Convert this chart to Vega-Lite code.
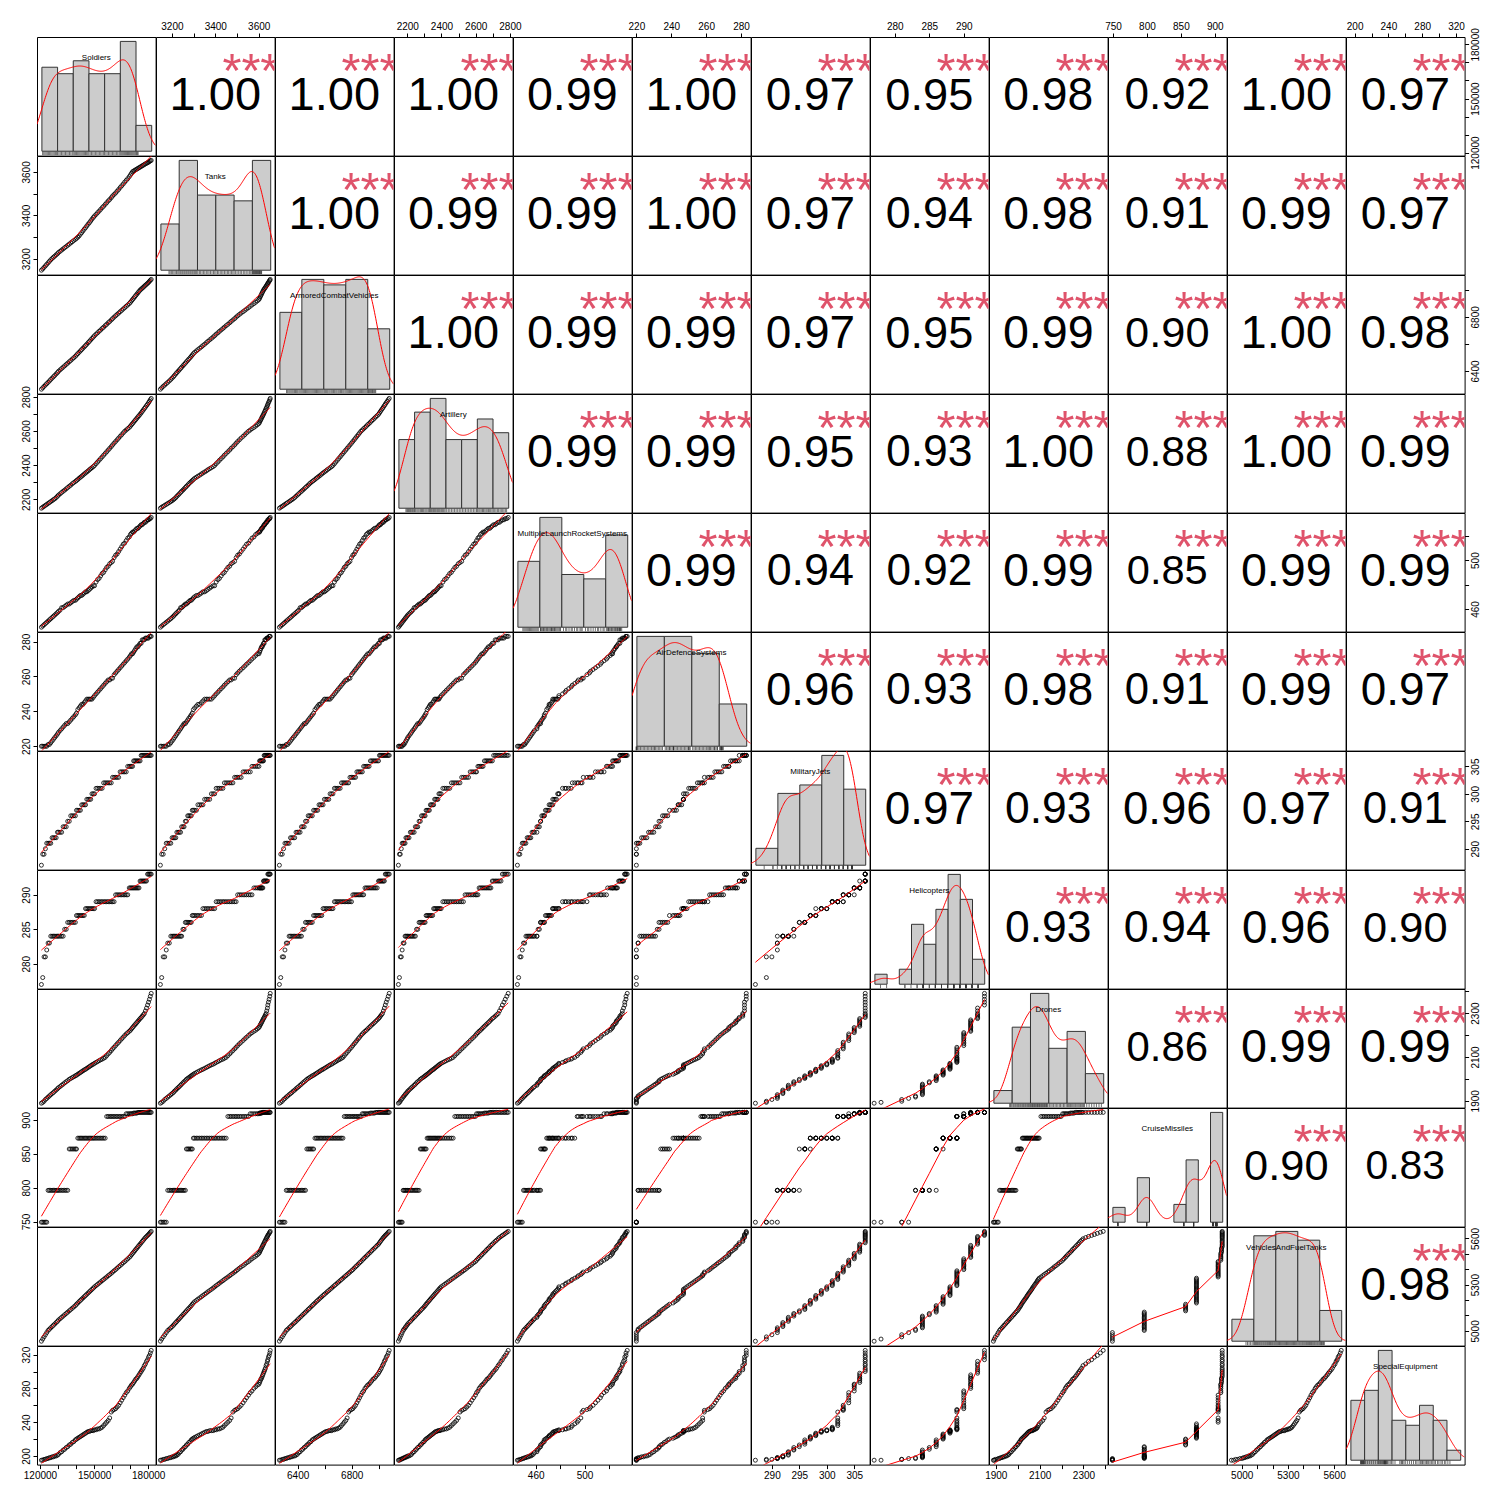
{
"$schema":"https://vega.github.io/schema/vega-lite/v6.json",
"padding":{"left":20,"top":20,"right":5,"bottom":5},
"datasets":{"d":[
{"Soldiers":120780,"Tanks":3147,"ArmoredCombatVehicles":6265,"Artillery":2148,"MultipleLaunchRocketSystems":445,"AirDefenceSystems":220,"MilitaryJets":287,"Helicopters":277,"Drones":1889,"CruiseMissiles":749,"VehiclesAndFuelTanks":4933,"SpecialEquipment":195},
{"Soldiers":121520,"Tanks":3153,"ArmoredCombatVehicles":6275,"Artillery":2154,"MultipleLaunchRocketSystems":446,"AirDefenceSystems":220,"MilitaryJets":289,"Helicopters":278,"Drones":1893,"CruiseMissiles":749,"VehiclesAndFuelTanks":4947,"SpecialEquipment":195},
{"Soldiers":122260,"Tanks":3160,"ArmoredCombatVehicles":6286,"Artillery":2159,"MultipleLaunchRocketSystems":447,"AirDefenceSystems":220,"MilitaryJets":289,"Helicopters":281,"Drones":1898,"CruiseMissiles":749,"VehiclesAndFuelTanks":4961,"SpecialEquipment":196},
{"Soldiers":123000,"Tanks":3167,"ArmoredCombatVehicles":6296,"Artillery":2165,"MultipleLaunchRocketSystems":448,"AirDefenceSystems":220,"MilitaryJets":290,"Helicopters":281,"Drones":1906,"CruiseMissiles":749,"VehiclesAndFuelTanks":4975,"SpecialEquipment":196},
{"Soldiers":123750,"Tanks":3174,"ArmoredCombatVehicles":6306,"Artillery":2170,"MultipleLaunchRocketSystems":449,"AirDefenceSystems":220,"MilitaryJets":291,"Helicopters":282,"Drones":1911,"CruiseMissiles":749,"VehiclesAndFuelTanks":4989,"SpecialEquipment":197},
{"Soldiers":124490,"Tanks":3181,"ArmoredCombatVehicles":6316,"Artillery":2176,"MultipleLaunchRocketSystems":450,"AirDefenceSystems":221,"MilitaryJets":291,"Helicopters":283,"Drones":1917,"CruiseMissiles":796,"VehiclesAndFuelTanks":5003,"SpecialEquipment":197},
{"Soldiers":125230,"Tanks":3188,"ArmoredCombatVehicles":6326,"Artillery":2181,"MultipleLaunchRocketSystems":451,"AirDefenceSystems":221,"MilitaryJets":291,"Helicopters":283,"Drones":1922,"CruiseMissiles":796,"VehiclesAndFuelTanks":5011,"SpecialEquipment":198},
{"Soldiers":125970,"Tanks":3195,"ArmoredCombatVehicles":6337,"Artillery":2187,"MultipleLaunchRocketSystems":452,"AirDefenceSystems":222,"MilitaryJets":291,"Helicopters":284,"Drones":1928,"CruiseMissiles":796,"VehiclesAndFuelTanks":5020,"SpecialEquipment":198},
{"Soldiers":126720,"Tanks":3201,"ArmoredCombatVehicles":6347,"Artillery":2192,"MultipleLaunchRocketSystems":453,"AirDefenceSystems":223,"MilitaryJets":292,"Helicopters":284,"Drones":1933,"CruiseMissiles":796,"VehiclesAndFuelTanks":5028,"SpecialEquipment":199},
{"Soldiers":127460,"Tanks":3207,"ArmoredCombatVehicles":6357,"Artillery":2198,"MultipleLaunchRocketSystems":454,"AirDefenceSystems":224,"MilitaryJets":292,"Helicopters":284,"Drones":1938,"CruiseMissiles":796,"VehiclesAndFuelTanks":5037,"SpecialEquipment":199},
{"Soldiers":128200,"Tanks":3212,"ArmoredCombatVehicles":6367,"Artillery":2203,"MultipleLaunchRocketSystems":455,"AirDefenceSystems":225,"MilitaryJets":292,"Helicopters":284,"Drones":1944,"CruiseMissiles":796,"VehiclesAndFuelTanks":5045,"SpecialEquipment":200},
{"Soldiers":128950,"Tanks":3218,"ArmoredCombatVehicles":6378,"Artillery":2210,"MultipleLaunchRocketSystems":456,"AirDefenceSystems":226,"MilitaryJets":292,"Helicopters":284,"Drones":1949,"CruiseMissiles":796,"VehiclesAndFuelTanks":5054,"SpecialEquipment":200},
{"Soldiers":129690,"Tanks":3223,"ArmoredCombatVehicles":6388,"Artillery":2218,"MultipleLaunchRocketSystems":457,"AirDefenceSystems":227,"MilitaryJets":293,"Helicopters":284,"Drones":1955,"CruiseMissiles":796,"VehiclesAndFuelTanks":5062,"SpecialEquipment":201},
{"Soldiers":130300,"Tanks":3229,"ArmoredCombatVehicles":6398,"Artillery":2225,"MultipleLaunchRocketSystems":458,"AirDefenceSystems":228,"MilitaryJets":293,"Helicopters":284,"Drones":1960,"CruiseMissiles":796,"VehiclesAndFuelTanks":5071,"SpecialEquipment":202},
{"Soldiers":131150,"Tanks":3234,"ArmoredCombatVehicles":6408,"Artillery":2232,"MultipleLaunchRocketSystems":459,"AirDefenceSystems":229,"MilitaryJets":293,"Helicopters":284,"Drones":1965,"CruiseMissiles":796,"VehiclesAndFuelTanks":5079,"SpecialEquipment":204},
{"Soldiers":131990,"Tanks":3240,"ArmoredCombatVehicles":6418,"Artillery":2240,"MultipleLaunchRocketSystems":461,"AirDefenceSystems":230,"MilitaryJets":293,"Helicopters":284,"Drones":1971,"CruiseMissiles":796,"VehiclesAndFuelTanks":5088,"SpecialEquipment":205},
{"Soldiers":132840,"Tanks":3245,"ArmoredCombatVehicles":6428,"Artillery":2247,"MultipleLaunchRocketSystems":461,"AirDefenceSystems":231,"MilitaryJets":294,"Helicopters":284,"Drones":1976,"CruiseMissiles":796,"VehiclesAndFuelTanks":5096,"SpecialEquipment":207},
{"Soldiers":133680,"Tanks":3251,"ArmoredCombatVehicles":6438,"Artillery":2254,"MultipleLaunchRocketSystems":462,"AirDefenceSystems":232,"MilitaryJets":294,"Helicopters":285,"Drones":1982,"CruiseMissiles":796,"VehiclesAndFuelTanks":5105,"SpecialEquipment":208},
{"Soldiers":134530,"Tanks":3256,"ArmoredCombatVehicles":6448,"Artillery":2261,"MultipleLaunchRocketSystems":463,"AirDefenceSystems":233,"MilitaryJets":294,"Helicopters":285,"Drones":1987,"CruiseMissiles":796,"VehiclesAndFuelTanks":5113,"SpecialEquipment":210},
{"Soldiers":135370,"Tanks":3262,"ArmoredCombatVehicles":6458,"Artillery":2269,"MultipleLaunchRocketSystems":464,"AirDefenceSystems":233,"MilitaryJets":295,"Helicopters":286,"Drones":1992,"CruiseMissiles":796,"VehiclesAndFuelTanks":5122,"SpecialEquipment":211},
{"Soldiers":136220,"Tanks":3267,"ArmoredCombatVehicles":6468,"Artillery":2276,"MultipleLaunchRocketSystems":464,"AirDefenceSystems":234,"MilitaryJets":295,"Helicopters":286,"Drones":1998,"CruiseMissiles":857,"VehiclesAndFuelTanks":5130,"SpecialEquipment":213},
{"Soldiers":137060,"Tanks":3273,"ArmoredCombatVehicles":6478,"Artillery":2283,"MultipleLaunchRocketSystems":465,"AirDefenceSystems":235,"MilitaryJets":296,"Helicopters":286,"Drones":2002,"CruiseMissiles":857,"VehiclesAndFuelTanks":5139,"SpecialEquipment":214},
{"Soldiers":137910,"Tanks":3278,"ArmoredCombatVehicles":6488,"Artillery":2291,"MultipleLaunchRocketSystems":466,"AirDefenceSystems":236,"MilitaryJets":296,"Helicopters":286,"Drones":2006,"CruiseMissiles":857,"VehiclesAndFuelTanks":5147,"SpecialEquipment":216},
{"Soldiers":138750,"Tanks":3284,"ArmoredCombatVehicles":6498,"Artillery":2298,"MultipleLaunchRocketSystems":467,"AirDefenceSystems":237,"MilitaryJets":296,"Helicopters":286,"Drones":2010,"CruiseMissiles":857,"VehiclesAndFuelTanks":5156,"SpecialEquipment":217},
{"Soldiers":139600,"Tanks":3289,"ArmoredCombatVehicles":6508,"Artillery":2304,"MultipleLaunchRocketSystems":467,"AirDefenceSystems":238,"MilitaryJets":296,"Helicopters":286,"Drones":2014,"CruiseMissiles":857,"VehiclesAndFuelTanks":5164,"SpecialEquipment":219},
{"Soldiers":140250,"Tanks":3294,"ArmoredCombatVehicles":6518,"Artillery":2310,"MultipleLaunchRocketSystems":468,"AirDefenceSystems":239,"MilitaryJets":297,"Helicopters":287,"Drones":2017,"CruiseMissiles":857,"VehiclesAndFuelTanks":5173,"SpecialEquipment":220},
{"Soldiers":140970,"Tanks":3299,"ArmoredCombatVehicles":6528,"Artillery":2316,"MultipleLaunchRocketSystems":469,"AirDefenceSystems":241,"MilitaryJets":297,"Helicopters":287,"Drones":2021,"CruiseMissiles":873,"VehiclesAndFuelTanks":5181,"SpecialEquipment":221},
{"Soldiers":141680,"Tanks":3305,"ArmoredCombatVehicles":6538,"Artillery":2323,"MultipleLaunchRocketSystems":470,"AirDefenceSystems":242,"MilitaryJets":297,"Helicopters":287,"Drones":2025,"CruiseMissiles":873,"VehiclesAndFuelTanks":5190,"SpecialEquipment":222},
{"Soldiers":142400,"Tanks":3313,"ArmoredCombatVehicles":6548,"Artillery":2329,"MultipleLaunchRocketSystems":471,"AirDefenceSystems":243,"MilitaryJets":297,"Helicopters":287,"Drones":2029,"CruiseMissiles":873,"VehiclesAndFuelTanks":5198,"SpecialEquipment":223},
{"Soldiers":143110,"Tanks":3320,"ArmoredCombatVehicles":6558,"Artillery":2335,"MultipleLaunchRocketSystems":471,"AirDefenceSystems":244,"MilitaryJets":298,"Helicopters":287,"Drones":2033,"CruiseMissiles":873,"VehiclesAndFuelTanks":5206,"SpecialEquipment":224},
{"Soldiers":143830,"Tanks":3328,"ArmoredCombatVehicles":6568,"Artillery":2341,"MultipleLaunchRocketSystems":472,"AirDefenceSystems":244,"MilitaryJets":298,"Helicopters":287,"Drones":2037,"CruiseMissiles":873,"VehiclesAndFuelTanks":5214,"SpecialEquipment":225},
{"Soldiers":144540,"Tanks":3336,"ArmoredCombatVehicles":6578,"Artillery":2348,"MultipleLaunchRocketSystems":473,"AirDefenceSystems":245,"MilitaryJets":298,"Helicopters":287,"Drones":2041,"CruiseMissiles":873,"VehiclesAndFuelTanks":5222,"SpecialEquipment":226},
{"Soldiers":145260,"Tanks":3343,"ArmoredCombatVehicles":6588,"Artillery":2354,"MultipleLaunchRocketSystems":474,"AirDefenceSystems":246,"MilitaryJets":298,"Helicopters":288,"Drones":2044,"CruiseMissiles":873,"VehiclesAndFuelTanks":5230,"SpecialEquipment":227},
{"Soldiers":145970,"Tanks":3351,"ArmoredCombatVehicles":6598,"Artillery":2360,"MultipleLaunchRocketSystems":474,"AirDefenceSystems":247,"MilitaryJets":299,"Helicopters":288,"Drones":2048,"CruiseMissiles":873,"VehiclesAndFuelTanks":5238,"SpecialEquipment":228},
{"Soldiers":146690,"Tanks":3359,"ArmoredCombatVehicles":6609,"Artillery":2366,"MultipleLaunchRocketSystems":475,"AirDefenceSystems":247,"MilitaryJets":299,"Helicopters":288,"Drones":2052,"CruiseMissiles":873,"VehiclesAndFuelTanks":5246,"SpecialEquipment":229},
{"Soldiers":147400,"Tanks":3366,"ArmoredCombatVehicles":6619,"Artillery":2373,"MultipleLaunchRocketSystems":476,"AirDefenceSystems":247,"MilitaryJets":299,"Helicopters":288,"Drones":2056,"CruiseMissiles":873,"VehiclesAndFuelTanks":5254,"SpecialEquipment":229},
{"Soldiers":148120,"Tanks":3374,"ArmoredCombatVehicles":6630,"Artillery":2379,"MultipleLaunchRocketSystems":477,"AirDefenceSystems":247,"MilitaryJets":299,"Helicopters":288,"Drones":2060,"CruiseMissiles":873,"VehiclesAndFuelTanks":5262,"SpecialEquipment":230},
{"Soldiers":148830,"Tanks":3382,"ArmoredCombatVehicles":6640,"Artillery":2385,"MultipleLaunchRocketSystems":478,"AirDefenceSystems":247,"MilitaryJets":300,"Helicopters":288,"Drones":2064,"CruiseMissiles":873,"VehiclesAndFuelTanks":5270,"SpecialEquipment":230},
{"Soldiers":149550,"Tanks":3390,"ArmoredCombatVehicles":6651,"Artillery":2391,"MultipleLaunchRocketSystems":479,"AirDefenceSystems":248,"MilitaryJets":300,"Helicopters":288,"Drones":2067,"CruiseMissiles":873,"VehiclesAndFuelTanks":5278,"SpecialEquipment":230},
{"Soldiers":150250,"Tanks":3397,"ArmoredCombatVehicles":6661,"Artillery":2398,"MultipleLaunchRocketSystems":479,"AirDefenceSystems":249,"MilitaryJets":300,"Helicopters":288,"Drones":2071,"CruiseMissiles":873,"VehiclesAndFuelTanks":5286,"SpecialEquipment":231},
{"Soldiers":151090,"Tanks":3404,"ArmoredCombatVehicles":6672,"Artillery":2408,"MultipleLaunchRocketSystems":482,"AirDefenceSystems":250,"MilitaryJets":301,"Helicopters":289,"Drones":2075,"CruiseMissiles":873,"VehiclesAndFuelTanks":5294,"SpecialEquipment":231},
{"Soldiers":151930,"Tanks":3412,"ArmoredCombatVehicles":6682,"Artillery":2418,"MultipleLaunchRocketSystems":484,"AirDefenceSystems":251,"MilitaryJets":301,"Helicopters":289,"Drones":2079,"CruiseMissiles":873,"VehiclesAndFuelTanks":5302,"SpecialEquipment":232},
{"Soldiers":152770,"Tanks":3419,"ArmoredCombatVehicles":6693,"Artillery":2428,"MultipleLaunchRocketSystems":485,"AirDefenceSystems":252,"MilitaryJets":301,"Helicopters":289,"Drones":2083,"CruiseMissiles":873,"VehiclesAndFuelTanks":5310,"SpecialEquipment":232},
{"Soldiers":153610,"Tanks":3427,"ArmoredCombatVehicles":6703,"Artillery":2438,"MultipleLaunchRocketSystems":487,"AirDefenceSystems":253,"MilitaryJets":301,"Helicopters":289,"Drones":2087,"CruiseMissiles":873,"VehiclesAndFuelTanks":5318,"SpecialEquipment":233},
{"Soldiers":154450,"Tanks":3435,"ArmoredCombatVehicles":6714,"Artillery":2448,"MultipleLaunchRocketSystems":489,"AirDefenceSystems":254,"MilitaryJets":301,"Helicopters":289,"Drones":2090,"CruiseMissiles":873,"VehiclesAndFuelTanks":5326,"SpecialEquipment":234},
{"Soldiers":155300,"Tanks":3442,"ArmoredCombatVehicles":6724,"Artillery":2458,"MultipleLaunchRocketSystems":490,"AirDefenceSystems":255,"MilitaryJets":302,"Helicopters":289,"Drones":2094,"CruiseMissiles":873,"VehiclesAndFuelTanks":5334,"SpecialEquipment":236},
{"Soldiers":156140,"Tanks":3450,"ArmoredCombatVehicles":6735,"Artillery":2468,"MultipleLaunchRocketSystems":492,"AirDefenceSystems":256,"MilitaryJets":302,"Helicopters":289,"Drones":2098,"CruiseMissiles":873,"VehiclesAndFuelTanks":5342,"SpecialEquipment":238},
{"Soldiers":156980,"Tanks":3458,"ArmoredCombatVehicles":6745,"Artillery":2478,"MultipleLaunchRocketSystems":494,"AirDefenceSystems":257,"MilitaryJets":302,"Helicopters":289,"Drones":2106,"CruiseMissiles":905,"VehiclesAndFuelTanks":5350,"SpecialEquipment":240},
{"Soldiers":157820,"Tanks":3466,"ArmoredCombatVehicles":6756,"Artillery":2488,"MultipleLaunchRocketSystems":495,"AirDefenceSystems":258,"MilitaryJets":302,"Helicopters":289,"Drones":2114,"CruiseMissiles":905,"VehiclesAndFuelTanks":5358,"SpecialEquipment":242},
{"Soldiers":158660,"Tanks":3473,"ArmoredCombatVehicles":6766,"Artillery":2498,"MultipleLaunchRocketSystems":497,"AirDefenceSystems":258,"MilitaryJets":302,"Helicopters":289,"Drones":2121,"CruiseMissiles":905,"VehiclesAndFuelTanks":5366,"SpecialEquipment":245},
{"Soldiers":159500,"Tanks":3481,"ArmoredCombatVehicles":6777,"Artillery":2508,"MultipleLaunchRocketSystems":498,"AirDefenceSystems":259,"MilitaryJets":302,"Helicopters":289,"Drones":2129,"CruiseMissiles":905,"VehiclesAndFuelTanks":5374,"SpecialEquipment":252},
{"Soldiers":160250,"Tanks":3489,"ArmoredCombatVehicles":6787,"Artillery":2518,"MultipleLaunchRocketSystems":499,"AirDefenceSystems":259,"MilitaryJets":303,"Helicopters":289,"Drones":2137,"CruiseMissiles":905,"VehiclesAndFuelTanks":5382,"SpecialEquipment":254},
{"Soldiers":161090,"Tanks":3496,"ArmoredCombatVehicles":6798,"Artillery":2528,"MultipleLaunchRocketSystems":502,"AirDefenceSystems":261,"MilitaryJets":303,"Helicopters":289,"Drones":2144,"CruiseMissiles":905,"VehiclesAndFuelTanks":5390,"SpecialEquipment":255},
{"Soldiers":161930,"Tanks":3503,"ArmoredCombatVehicles":6808,"Artillery":2538,"MultipleLaunchRocketSystems":504,"AirDefenceSystems":262,"MilitaryJets":303,"Helicopters":290,"Drones":2152,"CruiseMissiles":905,"VehiclesAndFuelTanks":5398,"SpecialEquipment":256},
{"Soldiers":162770,"Tanks":3511,"ArmoredCombatVehicles":6818,"Artillery":2548,"MultipleLaunchRocketSystems":505,"AirDefenceSystems":263,"MilitaryJets":303,"Helicopters":290,"Drones":2160,"CruiseMissiles":905,"VehiclesAndFuelTanks":5407,"SpecialEquipment":258},
{"Soldiers":163610,"Tanks":3519,"ArmoredCombatVehicles":6828,"Artillery":2558,"MultipleLaunchRocketSystems":507,"AirDefenceSystems":264,"MilitaryJets":303,"Helicopters":290,"Drones":2167,"CruiseMissiles":905,"VehiclesAndFuelTanks":5416,"SpecialEquipment":260},
{"Soldiers":164450,"Tanks":3528,"ArmoredCombatVehicles":6838,"Artillery":2568,"MultipleLaunchRocketSystems":509,"AirDefenceSystems":265,"MilitaryJets":304,"Helicopters":290,"Drones":2175,"CruiseMissiles":905,"VehiclesAndFuelTanks":5424,"SpecialEquipment":263},
{"Soldiers":165300,"Tanks":3536,"ArmoredCombatVehicles":6848,"Artillery":2578,"MultipleLaunchRocketSystems":511,"AirDefenceSystems":266,"MilitaryJets":304,"Helicopters":290,"Drones":2183,"CruiseMissiles":905,"VehiclesAndFuelTanks":5433,"SpecialEquipment":266},
{"Soldiers":166140,"Tanks":3544,"ArmoredCombatVehicles":6858,"Artillery":2588,"MultipleLaunchRocketSystems":513,"AirDefenceSystems":267,"MilitaryJets":304,"Helicopters":290,"Drones":2190,"CruiseMissiles":905,"VehiclesAndFuelTanks":5442,"SpecialEquipment":269},
{"Soldiers":166980,"Tanks":3553,"ArmoredCombatVehicles":6868,"Artillery":2598,"MultipleLaunchRocketSystems":514,"AirDefenceSystems":268,"MilitaryJets":304,"Helicopters":290,"Drones":2198,"CruiseMissiles":905,"VehiclesAndFuelTanks":5450,"SpecialEquipment":272},
{"Soldiers":167820,"Tanks":3561,"ArmoredCombatVehicles":6878,"Artillery":2605,"MultipleLaunchRocketSystems":516,"AirDefenceSystems":269,"MilitaryJets":304,"Helicopters":290,"Drones":2205,"CruiseMissiles":909,"VehiclesAndFuelTanks":5459,"SpecialEquipment":275},
{"Soldiers":168660,"Tanks":3569,"ArmoredCombatVehicles":6888,"Artillery":2613,"MultipleLaunchRocketSystems":518,"AirDefenceSystems":270,"MilitaryJets":305,"Helicopters":290,"Drones":2211,"CruiseMissiles":909,"VehiclesAndFuelTanks":5468,"SpecialEquipment":277},
{"Soldiers":169500,"Tanks":3578,"ArmoredCombatVehicles":6898,"Artillery":2620,"MultipleLaunchRocketSystems":519,"AirDefenceSystems":271,"MilitaryJets":305,"Helicopters":291,"Drones":2217,"CruiseMissiles":909,"VehiclesAndFuelTanks":5477,"SpecialEquipment":280},
{"Soldiers":170150,"Tanks":3586,"ArmoredCombatVehicles":6908,"Artillery":2628,"MultipleLaunchRocketSystems":521,"AirDefenceSystems":272,"MilitaryJets":305,"Helicopters":291,"Drones":2222,"CruiseMissiles":909,"VehiclesAndFuelTanks":5485,"SpecialEquipment":282},
{"Soldiers":170740,"Tanks":3594,"ArmoredCombatVehicles":6918,"Artillery":2636,"MultipleLaunchRocketSystems":522,"AirDefenceSystems":273,"MilitaryJets":305,"Helicopters":291,"Drones":2228,"CruiseMissiles":909,"VehiclesAndFuelTanks":5494,"SpecialEquipment":284},
{"Soldiers":171340,"Tanks":3601,"ArmoredCombatVehicles":6928,"Artillery":2643,"MultipleLaunchRocketSystems":523,"AirDefenceSystems":273,"MilitaryJets":305,"Helicopters":291,"Drones":2234,"CruiseMissiles":909,"VehiclesAndFuelTanks":5503,"SpecialEquipment":285},
{"Soldiers":171930,"Tanks":3604,"ArmoredCombatVehicles":6938,"Artillery":2651,"MultipleLaunchRocketSystems":523,"AirDefenceSystems":274,"MilitaryJets":306,"Helicopters":291,"Drones":2240,"CruiseMissiles":910,"VehiclesAndFuelTanks":5511,"SpecialEquipment":287},
{"Soldiers":172530,"Tanks":3607,"ArmoredCombatVehicles":6948,"Artillery":2659,"MultipleLaunchRocketSystems":524,"AirDefenceSystems":275,"MilitaryJets":306,"Helicopters":291,"Drones":2246,"CruiseMissiles":910,"VehiclesAndFuelTanks":5520,"SpecialEquipment":289},
{"Soldiers":173120,"Tanks":3610,"ArmoredCombatVehicles":6958,"Artillery":2666,"MultipleLaunchRocketSystems":525,"AirDefenceSystems":276,"MilitaryJets":306,"Helicopters":291,"Drones":2251,"CruiseMissiles":910,"VehiclesAndFuelTanks":5529,"SpecialEquipment":291},
{"Soldiers":173710,"Tanks":3613,"ArmoredCombatVehicles":6968,"Artillery":2674,"MultipleLaunchRocketSystems":526,"AirDefenceSystems":277,"MilitaryJets":306,"Helicopters":291,"Drones":2257,"CruiseMissiles":910,"VehiclesAndFuelTanks":5537,"SpecialEquipment":292},
{"Soldiers":174310,"Tanks":3616,"ArmoredCombatVehicles":6978,"Artillery":2682,"MultipleLaunchRocketSystems":526,"AirDefenceSystems":277,"MilitaryJets":306,"Helicopters":291,"Drones":2263,"CruiseMissiles":911,"VehiclesAndFuelTanks":5546,"SpecialEquipment":294},
{"Soldiers":174900,"Tanks":3619,"ArmoredCombatVehicles":6988,"Artillery":2689,"MultipleLaunchRocketSystems":527,"AirDefenceSystems":278,"MilitaryJets":306,"Helicopters":291,"Drones":2269,"CruiseMissiles":911,"VehiclesAndFuelTanks":5555,"SpecialEquipment":296},
{"Soldiers":175500,"Tanks":3622,"ArmoredCombatVehicles":6998,"Artillery":2697,"MultipleLaunchRocketSystems":528,"AirDefenceSystems":279,"MilitaryJets":306,"Helicopters":292,"Drones":2275,"CruiseMissiles":911,"VehiclesAndFuelTanks":5563,"SpecialEquipment":298},
{"Soldiers":176090,"Tanks":3625,"ArmoredCombatVehicles":7005,"Artillery":2705,"MultipleLaunchRocketSystems":529,"AirDefenceSystems":279,"MilitaryJets":307,"Helicopters":292,"Drones":2280,"CruiseMissiles":911,"VehiclesAndFuelTanks":5572,"SpecialEquipment":300},
{"Soldiers":176680,"Tanks":3628,"ArmoredCombatVehicles":7012,"Artillery":2714,"MultipleLaunchRocketSystems":529,"AirDefenceSystems":281,"MilitaryJets":307,"Helicopters":292,"Drones":2286,"CruiseMissiles":911,"VehiclesAndFuelTanks":5581,"SpecialEquipment":302},
{"Soldiers":177280,"Tanks":3631,"ArmoredCombatVehicles":7019,"Artillery":2722,"MultipleLaunchRocketSystems":530,"AirDefenceSystems":281,"MilitaryJets":307,"Helicopters":292,"Drones":2292,"CruiseMissiles":911,"VehiclesAndFuelTanks":5589,"SpecialEquipment":304},
{"Soldiers":177870,"Tanks":3634,"ArmoredCombatVehicles":7027,"Artillery":2731,"MultipleLaunchRocketSystems":531,"AirDefenceSystems":281,"MilitaryJets":307,"Helicopters":292,"Drones":2298,"CruiseMissiles":911,"VehiclesAndFuelTanks":5598,"SpecialEquipment":307},
{"Soldiers":178460,"Tanks":3637,"ArmoredCombatVehicles":7034,"Artillery":2739,"MultipleLaunchRocketSystems":531,"AirDefenceSystems":282,"MilitaryJets":307,"Helicopters":292,"Drones":2310,"CruiseMissiles":911,"VehiclesAndFuelTanks":5606,"SpecialEquipment":309},
{"Soldiers":179060,"Tanks":3640,"ArmoredCombatVehicles":7041,"Artillery":2748,"MultipleLaunchRocketSystems":532,"AirDefenceSystems":282,"MilitaryJets":307,"Helicopters":292,"Drones":2323,"CruiseMissiles":911,"VehiclesAndFuelTanks":5613,"SpecialEquipment":312},
{"Soldiers":179650,"Tanks":3642,"ArmoredCombatVehicles":7048,"Artillery":2756,"MultipleLaunchRocketSystems":533,"AirDefenceSystems":282,"MilitaryJets":307,"Helicopters":293,"Drones":2337,"CruiseMissiles":911,"VehiclesAndFuelTanks":5620,"SpecialEquipment":314},
{"Soldiers":180200,"Tanks":3645,"ArmoredCombatVehicles":7055,"Artillery":2765,"MultipleLaunchRocketSystems":533,"AirDefenceSystems":282,"MilitaryJets":307,"Helicopters":293,"Drones":2350,"CruiseMissiles":911,"VehiclesAndFuelTanks":5626,"SpecialEquipment":317},
{"Soldiers":180690,"Tanks":3648,"ArmoredCombatVehicles":7063,"Artillery":2773,"MultipleLaunchRocketSystems":534,"AirDefenceSystems":283,"MilitaryJets":307,"Helicopters":293,"Drones":2363,"CruiseMissiles":911,"VehiclesAndFuelTanks":5633,"SpecialEquipment":319},
{"Soldiers":181180,"Tanks":3651,"ArmoredCombatVehicles":7070,"Artillery":2782,"MultipleLaunchRocketSystems":534,"AirDefenceSystems":283,"MilitaryJets":307,"Helicopters":293,"Drones":2377,"CruiseMissiles":911,"VehiclesAndFuelTanks":5640,"SpecialEquipment":322},
{"Soldiers":181670,"Tanks":3653,"ArmoredCombatVehicles":7077,"Artillery":2790,"MultipleLaunchRocketSystems":535,"AirDefenceSystems":283,"MilitaryJets":307,"Helicopters":293,"Drones":2390,"CruiseMissiles":911,"VehiclesAndFuelTanks":5646,"SpecialEquipment":325}
]},
"data":{"name":"d"},
"columns":12,
"spacing":0,
"bounds":"flush",
"config":{
"view":{"continuousWidth":118.6,"continuousHeight":118.6,"stroke":"black","strokeWidth":1},
"concat":{"spacing":0},
"point":{"shape":"circle","filled":false,"size":16,"strokeWidth":0.8,"color":"black","opacity":1},
"line":{"color":"red","strokeWidth":1},
"bar":{"fill":"#cccccc","stroke":"#333333","strokeWidth":1,"binSpacing":0},
"rule":{"color":"#333333","strokeWidth":0.7},
"text":{"font":"Liberation Sans","baseline":"middle","color":"black"},
"axis":{"domain":false,"grid":false,"tickColor":"black","tickSize":4,"tickWidth":1,"labelFont":"Liberation Sans","labelFontSize":10,"labelColor":"black","labelPadding":2,"labelFlush":false,"labelOverlap":false},
"axisLeft":{"labelAngle":-90,"labelAlign":"center","labelBaseline":"bottom"},
"axisRight":{"labelAngle":-90,"labelAlign":"center","labelBaseline":"top"}
},
"concat":[
{"layer":[{"mark":"bar","encoding":{"x":{"field":"Soldiers","bin":{"extent":[120000.001,190000.001],"step":10000,"nice":false},"type":"quantitative","scale":{"domain":[117200,192800]},"axis":null},"y":{"aggregate":"count","type":"quantitative","scale":{"domain":[-0.68,17.68]},"axis":null}}},{"transform":[{"density":"Soldiers","bandwidth":6520,"extent":[117200,192800]}],"mark":{"type":"line","clip":true},"encoding":{"x":{"field":"value","type":"quantitative","scale":{"domain":[117200,192800]},"axis":null},"y":{"field":"density","type":"quantitative","scale":{"domain":[-8.1e-7,2.105e-5]},"axis":null}}},{"mark":"rule","encoding":{"x":{"field":"Soldiers","type":"quantitative","scale":{"domain":[117200,192800]},"axis":null},"y":{"datum":0.004,"scale":{"domain":[0,1]},"axis":null},"y2":{"datum":0.034}}},{"data":{"values":[{"name":"Soldiers"}]},"mark":{"type":"text","fontSize":8,"color":"black"},"encoding":{"text":{"field":"name"},"y":{"datum":0.827,"scale":{"domain":[0,1]},"axis":null}}}],"resolve":{"scale":{"y":"independent"}}},
{"data":{"values":[{"r":1.00,"p":"***"}]},"layer":[{"mark":"text","encoding":{"text":{"field":"r","format":".2f"},"size":{"field":"r","type":"quantitative","scale":{"domain":[-0.3,1],"range":[0,47]},"legend":null}}},{"mark":{"type":"text","color":"#DF536B","fontSize":48.8,"clip":true},"encoding":{"text":{"field":"p"},"x":{"datum":3563.9,"scale":{"domain":[3126.8,3673.2]},"axis":{"orient":"top","title":null,"format":"d","values":[3200,3300,3400,3500,3600],"labelExpr":"datum.value%200==0?datum.label:''"}},"y":{"datum":0.705,"scale":{"domain":[0,1]},"axis":null}}}]},
{"data":{"values":[{"r":1.00,"p":"***"}]},"layer":[{"mark":"text","encoding":{"text":{"field":"r","format":".2f"},"size":{"field":"r","type":"quantitative","scale":{"domain":[-0.3,1],"range":[0,47]},"legend":null}}},{"mark":{"type":"text","color":"#DF536B","fontSize":48.8,"clip":true},"encoding":{"text":{"field":"p"},"x":{"datum":0.8,"scale":{"domain":[0,1]},"axis":null},"y":{"datum":0.705,"scale":{"domain":[0,1]},"axis":null}}}]},
{"data":{"values":[{"r":1.00,"p":"***"}]},"layer":[{"mark":"text","encoding":{"text":{"field":"r","format":".2f"},"size":{"field":"r","type":"quantitative","scale":{"domain":[-0.3,1],"range":[0,47]},"legend":null}}},{"mark":{"type":"text","color":"#DF536B","fontSize":48.8,"clip":true},"encoding":{"text":{"field":"p"},"x":{"datum":2677.0,"scale":{"domain":[2122.3,2815.7]},"axis":{"orient":"top","title":null,"format":"d","values":[2200,2300,2400,2500,2600,2700,2800],"labelExpr":"datum.value%200==0?datum.label:''"}},"y":{"datum":0.705,"scale":{"domain":[0,1]},"axis":null}}}]},
{"data":{"values":[{"r":0.99,"p":"***"}]},"layer":[{"mark":"text","encoding":{"text":{"field":"r","format":".2f"},"size":{"field":"r","type":"quantitative","scale":{"domain":[-0.3,1],"range":[0,47]},"legend":null}}},{"mark":{"type":"text","color":"#DF536B","fontSize":48.8,"clip":true},"encoding":{"text":{"field":"p"},"x":{"datum":0.8,"scale":{"domain":[0,1]},"axis":null},"y":{"datum":0.705,"scale":{"domain":[0,1]},"axis":null}}}]},
{"data":{"values":[{"r":1.00,"p":"***"}]},"layer":[{"mark":"text","encoding":{"text":{"field":"r","format":".2f"},"size":{"field":"r","type":"quantitative","scale":{"domain":[-0.3,1],"range":[0,47]},"legend":null}}},{"mark":{"type":"text","color":"#DF536B","fontSize":48.8,"clip":true},"encoding":{"text":{"field":"p"},"x":{"datum":271.9,"scale":{"domain":[217.5,285.5]},"axis":{"orient":"top","title":null,"format":"d","values":[220,240,260,280]}},"y":{"datum":0.705,"scale":{"domain":[0,1]},"axis":null}}}]},
{"data":{"values":[{"r":0.97,"p":"***"}]},"layer":[{"mark":"text","encoding":{"text":{"field":"r","format":".2f"},"size":{"field":"r","type":"quantitative","scale":{"domain":[-0.3,1],"range":[0,47]},"legend":null}}},{"mark":{"type":"text","color":"#DF536B","fontSize":48.8,"clip":true},"encoding":{"text":{"field":"p"},"x":{"datum":0.8,"scale":{"domain":[0,1]},"axis":null},"y":{"datum":0.705,"scale":{"domain":[0,1]},"axis":null}}}]},
{"data":{"values":[{"r":0.95,"p":"***"}]},"layer":[{"mark":"text","encoding":{"text":{"field":"r","format":".2f"},"size":{"field":"r","type":"quantitative","scale":{"domain":[-0.3,1],"range":[0,47]},"legend":null}}},{"mark":{"type":"text","color":"#DF536B","fontSize":48.8,"clip":true},"encoding":{"text":{"field":"p"},"x":{"datum":290.16,"scale":{"domain":[276.4,293.6]},"axis":{"orient":"top","title":null,"format":"d","values":[280,285,290]}},"y":{"datum":0.705,"scale":{"domain":[0,1]},"axis":null}}}]},
{"data":{"values":[{"r":0.98,"p":"***"}]},"layer":[{"mark":"text","encoding":{"text":{"field":"r","format":".2f"},"size":{"field":"r","type":"quantitative","scale":{"domain":[-0.3,1],"range":[0,47]},"legend":null}}},{"mark":{"type":"text","color":"#DF536B","fontSize":48.8,"clip":true},"encoding":{"text":{"field":"p"},"x":{"datum":0.8,"scale":{"domain":[0,1]},"axis":null},"y":{"datum":0.705,"scale":{"domain":[0,1]},"axis":null}}}]},
{"data":{"values":[{"r":0.92,"p":"***"}]},"layer":[{"mark":"text","encoding":{"text":{"field":"r","format":".2f"},"size":{"field":"r","type":"quantitative","scale":{"domain":[-0.3,1],"range":[0,47]},"legend":null}}},{"mark":{"type":"text","color":"#DF536B","fontSize":48.8,"clip":true},"encoding":{"text":{"field":"p"},"x":{"datum":882.5,"scale":{"domain":[742.5,917.5]},"axis":{"orient":"top","title":null,"format":"d","values":[750,800,850,900]}},"y":{"datum":0.705,"scale":{"domain":[0,1]},"axis":null}}}]},
{"data":{"values":[{"r":1.00,"p":"***"}]},"layer":[{"mark":"text","encoding":{"text":{"field":"r","format":".2f"},"size":{"field":"r","type":"quantitative","scale":{"domain":[-0.3,1],"range":[0,47]},"legend":null}}},{"mark":{"type":"text","color":"#DF536B","fontSize":48.8,"clip":true},"encoding":{"text":{"field":"p"},"x":{"datum":0.8,"scale":{"domain":[0,1]},"axis":null},"y":{"datum":0.705,"scale":{"domain":[0,1]},"axis":null}}}]},
{"data":{"values":[{"r":0.97,"p":"***"}]},"layer":[{"mark":"text","encoding":{"text":{"field":"r","format":".2f"},"size":{"field":"r","type":"quantitative","scale":{"domain":[-0.3,1],"range":[0,47]},"legend":null}}},{"mark":{"type":"text","color":"#DF536B","fontSize":48.8,"clip":true},"encoding":{"text":{"field":"p"},"x":{"datum":302.12,"scale":{"domain":[189.8,330.2]},"axis":{"orient":"top","title":null,"format":"d","values":[200,220,240,260,280,300,320],"labelExpr":"(datum.value-200)%40==0?datum.label:''"}},"y":{"datum":164706,"scale":{"domain":[118344,184106]},"axis":{"orient":"right","title":null,"format":"d","values":[120000,130000,140000,150000,160000,170000,180000],"labelExpr":"datum.value%30000==0?datum.label:''"}}}}]},

{"encoding":{"x":{"field":"Soldiers","type":"quantitative","scale":{"domain":[118344,184106]},"axis":null},"y":{"field":"Tanks","type":"quantitative","scale":{"domain":[3126.8,3673.2]},"axis":{"orient":"left","title":null,"format":"d","values":[3200,3300,3400,3500,3600],"labelExpr":"datum.value%200==0?datum.label:''"}}},"layer":[{"mark":"point"},{"transform":[{"loess":"Tanks","on":"Soldiers","bandwidth":0.67}],"mark":{"type":"line","clip":true}}]},
{"layer":[{"mark":"bar","encoding":{"x":{"field":"Tanks","bin":{"extent":[3100.001,3700.001],"step":100,"nice":false},"type":"quantitative","scale":{"domain":[3076,3724]},"axis":null},"y":{"aggregate":"count","type":"quantitative","scale":{"domain":[-0.76,19.76]},"axis":null}}},{"transform":[{"density":"Tanks","bandwidth":59.5,"extent":[3076,3724]}],"mark":{"type":"line","clip":true},"encoding":{"x":{"field":"value","type":"quantitative","scale":{"domain":[3076,3724]},"axis":null},"y":{"field":"density","type":"quantitative","scale":{"domain":[-9.05e-5,0.0023524]},"axis":null}}},{"mark":"rule","encoding":{"x":{"field":"Tanks","type":"quantitative","scale":{"domain":[3076,3724]},"axis":null},"y":{"datum":0.004,"scale":{"domain":[0,1]},"axis":null},"y2":{"datum":0.034}}},{"data":{"values":[{"name":"Tanks"}]},"mark":{"type":"text","fontSize":8,"color":"black"},"encoding":{"text":{"field":"name"},"y":{"datum":0.827,"scale":{"domain":[0,1]},"axis":null}}}],"resolve":{"scale":{"y":"independent"}}},
{"data":{"values":[{"r":1.00,"p":"***"}]},"layer":[{"mark":"text","encoding":{"text":{"field":"r","format":".2f"},"size":{"field":"r","type":"quantitative","scale":{"domain":[-0.3,1],"range":[0,47]},"legend":null}}},{"mark":{"type":"text","color":"#DF536B","fontSize":48.8,"clip":true},"encoding":{"text":{"field":"p"},"x":{"datum":0.8,"scale":{"domain":[0,1]},"axis":null},"y":{"datum":0.705,"scale":{"domain":[0,1]},"axis":null}}}]},
{"data":{"values":[{"r":0.99,"p":"***"}]},"layer":[{"mark":"text","encoding":{"text":{"field":"r","format":".2f"},"size":{"field":"r","type":"quantitative","scale":{"domain":[-0.3,1],"range":[0,47]},"legend":null}}},{"mark":{"type":"text","color":"#DF536B","fontSize":48.8,"clip":true},"encoding":{"text":{"field":"p"},"x":{"datum":0.8,"scale":{"domain":[0,1]},"axis":null},"y":{"datum":0.705,"scale":{"domain":[0,1]},"axis":null}}}]},
{"data":{"values":[{"r":0.99,"p":"***"}]},"layer":[{"mark":"text","encoding":{"text":{"field":"r","format":".2f"},"size":{"field":"r","type":"quantitative","scale":{"domain":[-0.3,1],"range":[0,47]},"legend":null}}},{"mark":{"type":"text","color":"#DF536B","fontSize":48.8,"clip":true},"encoding":{"text":{"field":"p"},"x":{"datum":0.8,"scale":{"domain":[0,1]},"axis":null},"y":{"datum":0.705,"scale":{"domain":[0,1]},"axis":null}}}]},
{"data":{"values":[{"r":1.00,"p":"***"}]},"layer":[{"mark":"text","encoding":{"text":{"field":"r","format":".2f"},"size":{"field":"r","type":"quantitative","scale":{"domain":[-0.3,1],"range":[0,47]},"legend":null}}},{"mark":{"type":"text","color":"#DF536B","fontSize":48.8,"clip":true},"encoding":{"text":{"field":"p"},"x":{"datum":0.8,"scale":{"domain":[0,1]},"axis":null},"y":{"datum":0.705,"scale":{"domain":[0,1]},"axis":null}}}]},
{"data":{"values":[{"r":0.97,"p":"***"}]},"layer":[{"mark":"text","encoding":{"text":{"field":"r","format":".2f"},"size":{"field":"r","type":"quantitative","scale":{"domain":[-0.3,1],"range":[0,47]},"legend":null}}},{"mark":{"type":"text","color":"#DF536B","fontSize":48.8,"clip":true},"encoding":{"text":{"field":"p"},"x":{"datum":0.8,"scale":{"domain":[0,1]},"axis":null},"y":{"datum":0.705,"scale":{"domain":[0,1]},"axis":null}}}]},
{"data":{"values":[{"r":0.94,"p":"***"}]},"layer":[{"mark":"text","encoding":{"text":{"field":"r","format":".2f"},"size":{"field":"r","type":"quantitative","scale":{"domain":[-0.3,1],"range":[0,47]},"legend":null}}},{"mark":{"type":"text","color":"#DF536B","fontSize":48.8,"clip":true},"encoding":{"text":{"field":"p"},"x":{"datum":0.8,"scale":{"domain":[0,1]},"axis":null},"y":{"datum":0.705,"scale":{"domain":[0,1]},"axis":null}}}]},
{"data":{"values":[{"r":0.98,"p":"***"}]},"layer":[{"mark":"text","encoding":{"text":{"field":"r","format":".2f"},"size":{"field":"r","type":"quantitative","scale":{"domain":[-0.3,1],"range":[0,47]},"legend":null}}},{"mark":{"type":"text","color":"#DF536B","fontSize":48.8,"clip":true},"encoding":{"text":{"field":"p"},"x":{"datum":0.8,"scale":{"domain":[0,1]},"axis":null},"y":{"datum":0.705,"scale":{"domain":[0,1]},"axis":null}}}]},
{"data":{"values":[{"r":0.91,"p":"***"}]},"layer":[{"mark":"text","encoding":{"text":{"field":"r","format":".2f"},"size":{"field":"r","type":"quantitative","scale":{"domain":[-0.3,1],"range":[0,47]},"legend":null}}},{"mark":{"type":"text","color":"#DF536B","fontSize":48.8,"clip":true},"encoding":{"text":{"field":"p"},"x":{"datum":0.8,"scale":{"domain":[0,1]},"axis":null},"y":{"datum":0.705,"scale":{"domain":[0,1]},"axis":null}}}]},
{"data":{"values":[{"r":0.99,"p":"***"}]},"layer":[{"mark":"text","encoding":{"text":{"field":"r","format":".2f"},"size":{"field":"r","type":"quantitative","scale":{"domain":[-0.3,1],"range":[0,47]},"legend":null}}},{"mark":{"type":"text","color":"#DF536B","fontSize":48.8,"clip":true},"encoding":{"text":{"field":"p"},"x":{"datum":0.8,"scale":{"domain":[0,1]},"axis":null},"y":{"datum":0.705,"scale":{"domain":[0,1]},"axis":null}}}]},
{"data":{"values":[{"r":0.97,"p":"***"}]},"layer":[{"mark":"text","encoding":{"text":{"field":"r","format":".2f"},"size":{"field":"r","type":"quantitative","scale":{"domain":[-0.3,1],"range":[0,47]},"legend":null}}},{"mark":{"type":"text","color":"#DF536B","fontSize":48.8,"clip":true},"encoding":{"text":{"field":"p"},"x":{"datum":0.8,"scale":{"domain":[0,1]},"axis":null},"y":{"datum":0.705,"scale":{"domain":[0,1]},"axis":null}}}]},

{"encoding":{"x":{"field":"Soldiers","type":"quantitative","scale":{"domain":[118344,184106]},"axis":null},"y":{"field":"ArmoredCombatVehicles","type":"quantitative","scale":{"domain":[6232.5,7109.5]},"axis":null}},"layer":[{"mark":"point"},{"transform":[{"loess":"ArmoredCombatVehicles","on":"Soldiers","bandwidth":0.67}],"mark":{"type":"line","clip":true}}]},
{"encoding":{"x":{"field":"Tanks","type":"quantitative","scale":{"domain":[3126.8,3673.2]},"axis":null},"y":{"field":"ArmoredCombatVehicles","type":"quantitative","scale":{"domain":[6232.5,7109.5]},"axis":null}},"layer":[{"mark":"point"},{"transform":[{"loess":"ArmoredCombatVehicles","on":"Tanks","bandwidth":0.67}],"mark":{"type":"line","clip":true}}]},
{"layer":[{"mark":"bar","encoding":{"x":{"field":"ArmoredCombatVehicles","bin":{"extent":[6200.001,7200.001],"step":200,"nice":false},"type":"quantitative","scale":{"domain":[6160,7240]},"axis":null},"y":{"aggregate":"count","type":"quantitative","scale":{"domain":[-0.8,20.8]},"axis":null}}},{"transform":[{"density":"ArmoredCombatVehicles","bandwidth":87.6,"extent":[6160,7240]}],"mark":{"type":"line","clip":true},"encoding":{"x":{"field":"value","type":"quantitative","scale":{"domain":[6160,7240]},"axis":null},"y":{"field":"density","type":"quantitative","scale":{"domain":[-4.76e-5,0.0012381]},"axis":null}}},{"mark":"rule","encoding":{"x":{"field":"ArmoredCombatVehicles","type":"quantitative","scale":{"domain":[6160,7240]},"axis":null},"y":{"datum":0.004,"scale":{"domain":[0,1]},"axis":null},"y2":{"datum":0.034}}},{"data":{"values":[{"name":"ArmoredCombatVehicles"}]},"mark":{"type":"text","fontSize":8,"color":"black"},"encoding":{"text":{"field":"name"},"y":{"datum":0.827,"scale":{"domain":[0,1]},"axis":null}}}],"resolve":{"scale":{"y":"independent"}}},
{"data":{"values":[{"r":1.00,"p":"***"}]},"layer":[{"mark":"text","encoding":{"text":{"field":"r","format":".2f"},"size":{"field":"r","type":"quantitative","scale":{"domain":[-0.3,1],"range":[0,47]},"legend":null}}},{"mark":{"type":"text","color":"#DF536B","fontSize":48.8,"clip":true},"encoding":{"text":{"field":"p"},"x":{"datum":0.8,"scale":{"domain":[0,1]},"axis":null},"y":{"datum":0.705,"scale":{"domain":[0,1]},"axis":null}}}]},
{"data":{"values":[{"r":0.99,"p":"***"}]},"layer":[{"mark":"text","encoding":{"text":{"field":"r","format":".2f"},"size":{"field":"r","type":"quantitative","scale":{"domain":[-0.3,1],"range":[0,47]},"legend":null}}},{"mark":{"type":"text","color":"#DF536B","fontSize":48.8,"clip":true},"encoding":{"text":{"field":"p"},"x":{"datum":0.8,"scale":{"domain":[0,1]},"axis":null},"y":{"datum":0.705,"scale":{"domain":[0,1]},"axis":null}}}]},
{"data":{"values":[{"r":0.99,"p":"***"}]},"layer":[{"mark":"text","encoding":{"text":{"field":"r","format":".2f"},"size":{"field":"r","type":"quantitative","scale":{"domain":[-0.3,1],"range":[0,47]},"legend":null}}},{"mark":{"type":"text","color":"#DF536B","fontSize":48.8,"clip":true},"encoding":{"text":{"field":"p"},"x":{"datum":0.8,"scale":{"domain":[0,1]},"axis":null},"y":{"datum":0.705,"scale":{"domain":[0,1]},"axis":null}}}]},
{"data":{"values":[{"r":0.97,"p":"***"}]},"layer":[{"mark":"text","encoding":{"text":{"field":"r","format":".2f"},"size":{"field":"r","type":"quantitative","scale":{"domain":[-0.3,1],"range":[0,47]},"legend":null}}},{"mark":{"type":"text","color":"#DF536B","fontSize":48.8,"clip":true},"encoding":{"text":{"field":"p"},"x":{"datum":0.8,"scale":{"domain":[0,1]},"axis":null},"y":{"datum":0.705,"scale":{"domain":[0,1]},"axis":null}}}]},
{"data":{"values":[{"r":0.95,"p":"***"}]},"layer":[{"mark":"text","encoding":{"text":{"field":"r","format":".2f"},"size":{"field":"r","type":"quantitative","scale":{"domain":[-0.3,1],"range":[0,47]},"legend":null}}},{"mark":{"type":"text","color":"#DF536B","fontSize":48.8,"clip":true},"encoding":{"text":{"field":"p"},"x":{"datum":0.8,"scale":{"domain":[0,1]},"axis":null},"y":{"datum":0.705,"scale":{"domain":[0,1]},"axis":null}}}]},
{"data":{"values":[{"r":0.99,"p":"***"}]},"layer":[{"mark":"text","encoding":{"text":{"field":"r","format":".2f"},"size":{"field":"r","type":"quantitative","scale":{"domain":[-0.3,1],"range":[0,47]},"legend":null}}},{"mark":{"type":"text","color":"#DF536B","fontSize":48.8,"clip":true},"encoding":{"text":{"field":"p"},"x":{"datum":0.8,"scale":{"domain":[0,1]},"axis":null},"y":{"datum":0.705,"scale":{"domain":[0,1]},"axis":null}}}]},
{"data":{"values":[{"r":0.90,"p":"***"}]},"layer":[{"mark":"text","encoding":{"text":{"field":"r","format":".2f"},"size":{"field":"r","type":"quantitative","scale":{"domain":[-0.3,1],"range":[0,47]},"legend":null}}},{"mark":{"type":"text","color":"#DF536B","fontSize":48.8,"clip":true},"encoding":{"text":{"field":"p"},"x":{"datum":0.8,"scale":{"domain":[0,1]},"axis":null},"y":{"datum":0.705,"scale":{"domain":[0,1]},"axis":null}}}]},
{"data":{"values":[{"r":1.00,"p":"***"}]},"layer":[{"mark":"text","encoding":{"text":{"field":"r","format":".2f"},"size":{"field":"r","type":"quantitative","scale":{"domain":[-0.3,1],"range":[0,47]},"legend":null}}},{"mark":{"type":"text","color":"#DF536B","fontSize":48.8,"clip":true},"encoding":{"text":{"field":"p"},"x":{"datum":0.8,"scale":{"domain":[0,1]},"axis":null},"y":{"datum":0.705,"scale":{"domain":[0,1]},"axis":null}}}]},
{"data":{"values":[{"r":0.98,"p":"***"}]},"layer":[{"mark":"text","encoding":{"text":{"field":"r","format":".2f"},"size":{"field":"r","type":"quantitative","scale":{"domain":[-0.3,1],"range":[0,47]},"legend":null}}},{"mark":{"type":"text","color":"#DF536B","fontSize":48.8,"clip":true},"encoding":{"text":{"field":"p"},"x":{"datum":0.8,"scale":{"domain":[0,1]},"axis":null},"y":{"datum":6850.8,"scale":{"domain":[6232.5,7109.5]},"axis":{"orient":"right","title":null,"format":"d","values":[6400,6600,6800,7000],"labelExpr":"datum.value%400==0?datum.label:''"}}}}]},

{"encoding":{"x":{"field":"Soldiers","type":"quantitative","scale":{"domain":[118344,184106]},"axis":null},"y":{"field":"Artillery","type":"quantitative","scale":{"domain":[2122.3,2815.7]},"axis":{"orient":"left","title":null,"format":"d","values":[2200,2300,2400,2500,2600,2700,2800],"labelExpr":"datum.value%200==0?datum.label:''"}}},"layer":[{"mark":"point"},{"transform":[{"loess":"Artillery","on":"Soldiers","bandwidth":0.67}],"mark":{"type":"line","clip":true}}]},
{"encoding":{"x":{"field":"Tanks","type":"quantitative","scale":{"domain":[3126.8,3673.2]},"axis":null},"y":{"field":"Artillery","type":"quantitative","scale":{"domain":[2122.3,2815.7]},"axis":null}},"layer":[{"mark":"point"},{"transform":[{"loess":"Artillery","on":"Tanks","bandwidth":0.67}],"mark":{"type":"line","clip":true}}]},
{"encoding":{"x":{"field":"ArmoredCombatVehicles","type":"quantitative","scale":{"domain":[6232.5,7109.5]},"axis":null},"y":{"field":"Artillery","type":"quantitative","scale":{"domain":[2122.3,2815.7]},"axis":null}},"layer":[{"mark":"point"},{"transform":[{"loess":"Artillery","on":"ArmoredCombatVehicles","bandwidth":0.67}],"mark":{"type":"line","clip":true}}]},
{"layer":[{"mark":"bar","encoding":{"x":{"field":"Artillery","bin":{"extent":[2100.001,2800.001],"step":100,"nice":false},"type":"quantitative","scale":{"domain":[2072,2828]},"axis":null},"y":{"aggregate":"count","type":"quantitative","scale":{"domain":[-0.64,16.64]},"axis":null}}},{"transform":[{"density":"Artillery","bandwidth":69,"extent":[2072,2828]}],"mark":{"type":"line","clip":true},"encoding":{"x":{"field":"value","type":"quantitative","scale":{"domain":[2072,2828]},"axis":null},"y":{"field":"density","type":"quantitative","scale":{"domain":[-7.62e-5,0.001981]},"axis":null}}},{"mark":"rule","encoding":{"x":{"field":"Artillery","type":"quantitative","scale":{"domain":[2072,2828]},"axis":null},"y":{"datum":0.004,"scale":{"domain":[0,1]},"axis":null},"y2":{"datum":0.034}}},{"data":{"values":[{"name":"Artillery"}]},"mark":{"type":"text","fontSize":8,"color":"black"},"encoding":{"text":{"field":"name"},"y":{"datum":0.827,"scale":{"domain":[0,1]},"axis":null}}}],"resolve":{"scale":{"y":"independent"}}},
{"data":{"values":[{"r":0.99,"p":"***"}]},"layer":[{"mark":"text","encoding":{"text":{"field":"r","format":".2f"},"size":{"field":"r","type":"quantitative","scale":{"domain":[-0.3,1],"range":[0,47]},"legend":null}}},{"mark":{"type":"text","color":"#DF536B","fontSize":48.8,"clip":true},"encoding":{"text":{"field":"p"},"x":{"datum":0.8,"scale":{"domain":[0,1]},"axis":null},"y":{"datum":0.705,"scale":{"domain":[0,1]},"axis":null}}}]},
{"data":{"values":[{"r":0.99,"p":"***"}]},"layer":[{"mark":"text","encoding":{"text":{"field":"r","format":".2f"},"size":{"field":"r","type":"quantitative","scale":{"domain":[-0.3,1],"range":[0,47]},"legend":null}}},{"mark":{"type":"text","color":"#DF536B","fontSize":48.8,"clip":true},"encoding":{"text":{"field":"p"},"x":{"datum":0.8,"scale":{"domain":[0,1]},"axis":null},"y":{"datum":0.705,"scale":{"domain":[0,1]},"axis":null}}}]},
{"data":{"values":[{"r":0.95,"p":"***"}]},"layer":[{"mark":"text","encoding":{"text":{"field":"r","format":".2f"},"size":{"field":"r","type":"quantitative","scale":{"domain":[-0.3,1],"range":[0,47]},"legend":null}}},{"mark":{"type":"text","color":"#DF536B","fontSize":48.8,"clip":true},"encoding":{"text":{"field":"p"},"x":{"datum":0.8,"scale":{"domain":[0,1]},"axis":null},"y":{"datum":0.705,"scale":{"domain":[0,1]},"axis":null}}}]},
{"data":{"values":[{"r":0.93,"p":"***"}]},"layer":[{"mark":"text","encoding":{"text":{"field":"r","format":".2f"},"size":{"field":"r","type":"quantitative","scale":{"domain":[-0.3,1],"range":[0,47]},"legend":null}}},{"mark":{"type":"text","color":"#DF536B","fontSize":48.8,"clip":true},"encoding":{"text":{"field":"p"},"x":{"datum":0.8,"scale":{"domain":[0,1]},"axis":null},"y":{"datum":0.705,"scale":{"domain":[0,1]},"axis":null}}}]},
{"data":{"values":[{"r":1.00,"p":"***"}]},"layer":[{"mark":"text","encoding":{"text":{"field":"r","format":".2f"},"size":{"field":"r","type":"quantitative","scale":{"domain":[-0.3,1],"range":[0,47]},"legend":null}}},{"mark":{"type":"text","color":"#DF536B","fontSize":48.8,"clip":true},"encoding":{"text":{"field":"p"},"x":{"datum":0.8,"scale":{"domain":[0,1]},"axis":null},"y":{"datum":0.705,"scale":{"domain":[0,1]},"axis":null}}}]},
{"data":{"values":[{"r":0.88,"p":"***"}]},"layer":[{"mark":"text","encoding":{"text":{"field":"r","format":".2f"},"size":{"field":"r","type":"quantitative","scale":{"domain":[-0.3,1],"range":[0,47]},"legend":null}}},{"mark":{"type":"text","color":"#DF536B","fontSize":48.8,"clip":true},"encoding":{"text":{"field":"p"},"x":{"datum":0.8,"scale":{"domain":[0,1]},"axis":null},"y":{"datum":0.705,"scale":{"domain":[0,1]},"axis":null}}}]},
{"data":{"values":[{"r":1.00,"p":"***"}]},"layer":[{"mark":"text","encoding":{"text":{"field":"r","format":".2f"},"size":{"field":"r","type":"quantitative","scale":{"domain":[-0.3,1],"range":[0,47]},"legend":null}}},{"mark":{"type":"text","color":"#DF536B","fontSize":48.8,"clip":true},"encoding":{"text":{"field":"p"},"x":{"datum":0.8,"scale":{"domain":[0,1]},"axis":null},"y":{"datum":0.705,"scale":{"domain":[0,1]},"axis":null}}}]},
{"data":{"values":[{"r":0.99,"p":"***"}]},"layer":[{"mark":"text","encoding":{"text":{"field":"r","format":".2f"},"size":{"field":"r","type":"quantitative","scale":{"domain":[-0.3,1],"range":[0,47]},"legend":null}}},{"mark":{"type":"text","color":"#DF536B","fontSize":48.8,"clip":true},"encoding":{"text":{"field":"p"},"x":{"datum":0.8,"scale":{"domain":[0,1]},"axis":null},"y":{"datum":0.705,"scale":{"domain":[0,1]},"axis":null}}}]},

{"encoding":{"x":{"field":"Soldiers","type":"quantitative","scale":{"domain":[118344,184106]},"axis":null},"y":{"field":"MultipleLaunchRocketSystems","type":"quantitative","scale":{"domain":[441.4,538.6]},"axis":null}},"layer":[{"mark":"point"},{"transform":[{"loess":"MultipleLaunchRocketSystems","on":"Soldiers","bandwidth":0.67}],"mark":{"type":"line","clip":true}}]},
{"encoding":{"x":{"field":"Tanks","type":"quantitative","scale":{"domain":[3126.8,3673.2]},"axis":null},"y":{"field":"MultipleLaunchRocketSystems","type":"quantitative","scale":{"domain":[441.4,538.6]},"axis":null}},"layer":[{"mark":"point"},{"transform":[{"loess":"MultipleLaunchRocketSystems","on":"Tanks","bandwidth":0.67}],"mark":{"type":"line","clip":true}}]},
{"encoding":{"x":{"field":"ArmoredCombatVehicles","type":"quantitative","scale":{"domain":[6232.5,7109.5]},"axis":null},"y":{"field":"MultipleLaunchRocketSystems","type":"quantitative","scale":{"domain":[441.4,538.6]},"axis":null}},"layer":[{"mark":"point"},{"transform":[{"loess":"MultipleLaunchRocketSystems","on":"ArmoredCombatVehicles","bandwidth":0.67}],"mark":{"type":"line","clip":true}}]},
{"encoding":{"x":{"field":"Artillery","type":"quantitative","scale":{"domain":[2122.3,2815.7]},"axis":null},"y":{"field":"MultipleLaunchRocketSystems","type":"quantitative","scale":{"domain":[441.4,538.6]},"axis":null}},"layer":[{"mark":"point"},{"transform":[{"loess":"MultipleLaunchRocketSystems","on":"Artillery","bandwidth":0.67}],"mark":{"type":"line","clip":true}}]},
{"layer":[{"mark":"bar","encoding":{"x":{"field":"MultipleLaunchRocketSystems","bin":{"extent":[440.001,540.001],"step":20,"nice":false},"type":"quantitative","scale":{"domain":[436,544]},"axis":null},"y":{"aggregate":"count","type":"quantitative","scale":{"domain":[-1,26]},"axis":null}}},{"transform":[{"density":"MultipleLaunchRocketSystems","bandwidth":10.7,"extent":[436,544]}],"mark":{"type":"line","clip":true},"encoding":{"x":{"field":"value","type":"quantitative","scale":{"domain":[436,544]},"axis":null},"y":{"field":"density","type":"quantitative","scale":{"domain":[-0.000595,0.015476]},"axis":null}}},{"mark":"rule","encoding":{"x":{"field":"MultipleLaunchRocketSystems","type":"quantitative","scale":{"domain":[436,544]},"axis":null},"y":{"datum":0.004,"scale":{"domain":[0,1]},"axis":null},"y2":{"datum":0.034}}},{"data":{"values":[{"name":"MultipleLaunchRocketSystems"}]},"mark":{"type":"text","fontSize":8,"color":"black"},"encoding":{"text":{"field":"name"},"y":{"datum":0.827,"scale":{"domain":[0,1]},"axis":null}}}],"resolve":{"scale":{"y":"independent"}}},
{"data":{"values":[{"r":0.99,"p":"***"}]},"layer":[{"mark":"text","encoding":{"text":{"field":"r","format":".2f"},"size":{"field":"r","type":"quantitative","scale":{"domain":[-0.3,1],"range":[0,47]},"legend":null}}},{"mark":{"type":"text","color":"#DF536B","fontSize":48.8,"clip":true},"encoding":{"text":{"field":"p"},"x":{"datum":0.8,"scale":{"domain":[0,1]},"axis":null},"y":{"datum":0.705,"scale":{"domain":[0,1]},"axis":null}}}]},
{"data":{"values":[{"r":0.94,"p":"***"}]},"layer":[{"mark":"text","encoding":{"text":{"field":"r","format":".2f"},"size":{"field":"r","type":"quantitative","scale":{"domain":[-0.3,1],"range":[0,47]},"legend":null}}},{"mark":{"type":"text","color":"#DF536B","fontSize":48.8,"clip":true},"encoding":{"text":{"field":"p"},"x":{"datum":0.8,"scale":{"domain":[0,1]},"axis":null},"y":{"datum":0.705,"scale":{"domain":[0,1]},"axis":null}}}]},
{"data":{"values":[{"r":0.92,"p":"***"}]},"layer":[{"mark":"text","encoding":{"text":{"field":"r","format":".2f"},"size":{"field":"r","type":"quantitative","scale":{"domain":[-0.3,1],"range":[0,47]},"legend":null}}},{"mark":{"type":"text","color":"#DF536B","fontSize":48.8,"clip":true},"encoding":{"text":{"field":"p"},"x":{"datum":0.8,"scale":{"domain":[0,1]},"axis":null},"y":{"datum":0.705,"scale":{"domain":[0,1]},"axis":null}}}]},
{"data":{"values":[{"r":0.99,"p":"***"}]},"layer":[{"mark":"text","encoding":{"text":{"field":"r","format":".2f"},"size":{"field":"r","type":"quantitative","scale":{"domain":[-0.3,1],"range":[0,47]},"legend":null}}},{"mark":{"type":"text","color":"#DF536B","fontSize":48.8,"clip":true},"encoding":{"text":{"field":"p"},"x":{"datum":0.8,"scale":{"domain":[0,1]},"axis":null},"y":{"datum":0.705,"scale":{"domain":[0,1]},"axis":null}}}]},
{"data":{"values":[{"r":0.85,"p":"***"}]},"layer":[{"mark":"text","encoding":{"text":{"field":"r","format":".2f"},"size":{"field":"r","type":"quantitative","scale":{"domain":[-0.3,1],"range":[0,47]},"legend":null}}},{"mark":{"type":"text","color":"#DF536B","fontSize":48.8,"clip":true},"encoding":{"text":{"field":"p"},"x":{"datum":0.8,"scale":{"domain":[0,1]},"axis":null},"y":{"datum":0.705,"scale":{"domain":[0,1]},"axis":null}}}]},
{"data":{"values":[{"r":0.99,"p":"***"}]},"layer":[{"mark":"text","encoding":{"text":{"field":"r","format":".2f"},"size":{"field":"r","type":"quantitative","scale":{"domain":[-0.3,1],"range":[0,47]},"legend":null}}},{"mark":{"type":"text","color":"#DF536B","fontSize":48.8,"clip":true},"encoding":{"text":{"field":"p"},"x":{"datum":0.8,"scale":{"domain":[0,1]},"axis":null},"y":{"datum":0.705,"scale":{"domain":[0,1]},"axis":null}}}]},
{"data":{"values":[{"r":0.99,"p":"***"}]},"layer":[{"mark":"text","encoding":{"text":{"field":"r","format":".2f"},"size":{"field":"r","type":"quantitative","scale":{"domain":[-0.3,1],"range":[0,47]},"legend":null}}},{"mark":{"type":"text","color":"#DF536B","fontSize":48.8,"clip":true},"encoding":{"text":{"field":"p"},"x":{"datum":0.8,"scale":{"domain":[0,1]},"axis":null},"y":{"datum":509.93,"scale":{"domain":[441.4,538.6]},"axis":{"orient":"right","title":null,"format":"d","values":[460,480,500,520],"labelExpr":"(datum.value-460)%40==0?datum.label:''"}}}}]},

{"encoding":{"x":{"field":"Soldiers","type":"quantitative","scale":{"domain":[118344,184106]},"axis":null},"y":{"field":"AirDefenceSystems","type":"quantitative","scale":{"domain":[217.5,285.5]},"axis":{"orient":"left","title":null,"format":"d","values":[220,240,260,280]}}},"layer":[{"mark":"point"},{"transform":[{"loess":"AirDefenceSystems","on":"Soldiers","bandwidth":0.67}],"mark":{"type":"line","clip":true}}]},
{"encoding":{"x":{"field":"Tanks","type":"quantitative","scale":{"domain":[3126.8,3673.2]},"axis":null},"y":{"field":"AirDefenceSystems","type":"quantitative","scale":{"domain":[217.5,285.5]},"axis":null}},"layer":[{"mark":"point"},{"transform":[{"loess":"AirDefenceSystems","on":"Tanks","bandwidth":0.67}],"mark":{"type":"line","clip":true}}]},
{"encoding":{"x":{"field":"ArmoredCombatVehicles","type":"quantitative","scale":{"domain":[6232.5,7109.5]},"axis":null},"y":{"field":"AirDefenceSystems","type":"quantitative","scale":{"domain":[217.5,285.5]},"axis":null}},"layer":[{"mark":"point"},{"transform":[{"loess":"AirDefenceSystems","on":"ArmoredCombatVehicles","bandwidth":0.67}],"mark":{"type":"line","clip":true}}]},
{"encoding":{"x":{"field":"Artillery","type":"quantitative","scale":{"domain":[2122.3,2815.7]},"axis":null},"y":{"field":"AirDefenceSystems","type":"quantitative","scale":{"domain":[217.5,285.5]},"axis":null}},"layer":[{"mark":"point"},{"transform":[{"loess":"AirDefenceSystems","on":"Artillery","bandwidth":0.67}],"mark":{"type":"line","clip":true}}]},
{"encoding":{"x":{"field":"MultipleLaunchRocketSystems","type":"quantitative","scale":{"domain":[441.4,538.6]},"axis":null},"y":{"field":"AirDefenceSystems","type":"quantitative","scale":{"domain":[217.5,285.5]},"axis":null}},"layer":[{"mark":"point"},{"transform":[{"loess":"AirDefenceSystems","on":"MultipleLaunchRocketSystems","bandwidth":0.67}],"mark":{"type":"line","clip":true}}]},
{"layer":[{"mark":"bar","encoding":{"x":{"field":"AirDefenceSystems","bin":{"extent":[220,300],"step":20,"nice":false},"type":"quantitative","scale":{"domain":[216.8,303.2]},"axis":null},"y":{"aggregate":"count","type":"quantitative","scale":{"domain":[-1.04,27.04]},"axis":null}}},{"transform":[{"density":"AirDefenceSystems","bandwidth":9,"extent":[216.8,303.2]}],"mark":{"type":"line","clip":true},"encoding":{"x":{"field":"value","type":"quantitative","scale":{"domain":[216.8,303.2]},"axis":null},"y":{"field":"density","type":"quantitative","scale":{"domain":[-0.000619,0.016095]},"axis":null}}},{"mark":"rule","encoding":{"x":{"field":"AirDefenceSystems","type":"quantitative","scale":{"domain":[216.8,303.2]},"axis":null},"y":{"datum":0.004,"scale":{"domain":[0,1]},"axis":null},"y2":{"datum":0.034}}},{"data":{"values":[{"name":"AirDefenceSystems"}]},"mark":{"type":"text","fontSize":8,"color":"black"},"encoding":{"text":{"field":"name"},"y":{"datum":0.827,"scale":{"domain":[0,1]},"axis":null}}}],"resolve":{"scale":{"y":"independent"}}},
{"data":{"values":[{"r":0.96,"p":"***"}]},"layer":[{"mark":"text","encoding":{"text":{"field":"r","format":".2f"},"size":{"field":"r","type":"quantitative","scale":{"domain":[-0.3,1],"range":[0,47]},"legend":null}}},{"mark":{"type":"text","color":"#DF536B","fontSize":48.8,"clip":true},"encoding":{"text":{"field":"p"},"x":{"datum":0.8,"scale":{"domain":[0,1]},"axis":null},"y":{"datum":0.705,"scale":{"domain":[0,1]},"axis":null}}}]},
{"data":{"values":[{"r":0.93,"p":"***"}]},"layer":[{"mark":"text","encoding":{"text":{"field":"r","format":".2f"},"size":{"field":"r","type":"quantitative","scale":{"domain":[-0.3,1],"range":[0,47]},"legend":null}}},{"mark":{"type":"text","color":"#DF536B","fontSize":48.8,"clip":true},"encoding":{"text":{"field":"p"},"x":{"datum":0.8,"scale":{"domain":[0,1]},"axis":null},"y":{"datum":0.705,"scale":{"domain":[0,1]},"axis":null}}}]},
{"data":{"values":[{"r":0.98,"p":"***"}]},"layer":[{"mark":"text","encoding":{"text":{"field":"r","format":".2f"},"size":{"field":"r","type":"quantitative","scale":{"domain":[-0.3,1],"range":[0,47]},"legend":null}}},{"mark":{"type":"text","color":"#DF536B","fontSize":48.8,"clip":true},"encoding":{"text":{"field":"p"},"x":{"datum":0.8,"scale":{"domain":[0,1]},"axis":null},"y":{"datum":0.705,"scale":{"domain":[0,1]},"axis":null}}}]},
{"data":{"values":[{"r":0.91,"p":"***"}]},"layer":[{"mark":"text","encoding":{"text":{"field":"r","format":".2f"},"size":{"field":"r","type":"quantitative","scale":{"domain":[-0.3,1],"range":[0,47]},"legend":null}}},{"mark":{"type":"text","color":"#DF536B","fontSize":48.8,"clip":true},"encoding":{"text":{"field":"p"},"x":{"datum":0.8,"scale":{"domain":[0,1]},"axis":null},"y":{"datum":0.705,"scale":{"domain":[0,1]},"axis":null}}}]},
{"data":{"values":[{"r":0.99,"p":"***"}]},"layer":[{"mark":"text","encoding":{"text":{"field":"r","format":".2f"},"size":{"field":"r","type":"quantitative","scale":{"domain":[-0.3,1],"range":[0,47]},"legend":null}}},{"mark":{"type":"text","color":"#DF536B","fontSize":48.8,"clip":true},"encoding":{"text":{"field":"p"},"x":{"datum":0.8,"scale":{"domain":[0,1]},"axis":null},"y":{"datum":0.705,"scale":{"domain":[0,1]},"axis":null}}}]},
{"data":{"values":[{"r":0.97,"p":"***"}]},"layer":[{"mark":"text","encoding":{"text":{"field":"r","format":".2f"},"size":{"field":"r","type":"quantitative","scale":{"domain":[-0.3,1],"range":[0,47]},"legend":null}}},{"mark":{"type":"text","color":"#DF536B","fontSize":48.8,"clip":true},"encoding":{"text":{"field":"p"},"x":{"datum":0.8,"scale":{"domain":[0,1]},"axis":null},"y":{"datum":0.705,"scale":{"domain":[0,1]},"axis":null}}}]},

{"encoding":{"x":{"field":"Soldiers","type":"quantitative","scale":{"domain":[118344,184106]},"axis":null},"y":{"field":"MilitaryJets","type":"quantitative","scale":{"domain":[286.2,307.8]},"axis":null}},"layer":[{"mark":"point"},{"transform":[{"loess":"MilitaryJets","on":"Soldiers","bandwidth":0.67}],"mark":{"type":"line","clip":true}}]},
{"encoding":{"x":{"field":"Tanks","type":"quantitative","scale":{"domain":[3126.8,3673.2]},"axis":null},"y":{"field":"MilitaryJets","type":"quantitative","scale":{"domain":[286.2,307.8]},"axis":null}},"layer":[{"mark":"point"},{"transform":[{"loess":"MilitaryJets","on":"Tanks","bandwidth":0.67}],"mark":{"type":"line","clip":true}}]},
{"encoding":{"x":{"field":"ArmoredCombatVehicles","type":"quantitative","scale":{"domain":[6232.5,7109.5]},"axis":null},"y":{"field":"MilitaryJets","type":"quantitative","scale":{"domain":[286.2,307.8]},"axis":null}},"layer":[{"mark":"point"},{"transform":[{"loess":"MilitaryJets","on":"ArmoredCombatVehicles","bandwidth":0.67}],"mark":{"type":"line","clip":true}}]},
{"encoding":{"x":{"field":"Artillery","type":"quantitative","scale":{"domain":[2122.3,2815.7]},"axis":null},"y":{"field":"MilitaryJets","type":"quantitative","scale":{"domain":[286.2,307.8]},"axis":null}},"layer":[{"mark":"point"},{"transform":[{"loess":"MilitaryJets","on":"Artillery","bandwidth":0.67}],"mark":{"type":"line","clip":true}}]},
{"encoding":{"x":{"field":"MultipleLaunchRocketSystems","type":"quantitative","scale":{"domain":[441.4,538.6]},"axis":null},"y":{"field":"MilitaryJets","type":"quantitative","scale":{"domain":[286.2,307.8]},"axis":null}},"layer":[{"mark":"point"},{"transform":[{"loess":"MilitaryJets","on":"MultipleLaunchRocketSystems","bandwidth":0.67}],"mark":{"type":"line","clip":true}}]},
{"encoding":{"x":{"field":"AirDefenceSystems","type":"quantitative","scale":{"domain":[217.5,285.5]},"axis":null},"y":{"field":"MilitaryJets","type":"quantitative","scale":{"domain":[286.2,307.8]},"axis":null}},"layer":[{"mark":"point"},{"transform":[{"loess":"MilitaryJets","on":"AirDefenceSystems","bandwidth":0.67}],"mark":{"type":"line","clip":true}}]},
{"layer":[{"mark":"bar","encoding":{"x":{"field":"MilitaryJets","bin":{"extent":[285.001,310.001],"step":5,"nice":false},"type":"quantitative","scale":{"domain":[284,311]},"axis":null},"y":{"aggregate":"count","type":"quantitative","scale":{"domain":[-1.04,27.04]},"axis":null}}},{"transform":[{"density":"MilitaryJets","bandwidth":2.06,"extent":[284,311]}],"mark":{"type":"line","clip":true},"encoding":{"x":{"field":"value","type":"quantitative","scale":{"domain":[284,311]},"axis":null},"y":{"field":"density","type":"quantitative","scale":{"domain":[-0.002476,0.064381]},"axis":null}}},{"mark":"rule","encoding":{"x":{"field":"MilitaryJets","type":"quantitative","scale":{"domain":[284,311]},"axis":null},"y":{"datum":0.004,"scale":{"domain":[0,1]},"axis":null},"y2":{"datum":0.034}}},{"data":{"values":[{"name":"MilitaryJets"}]},"mark":{"type":"text","fontSize":8,"color":"black"},"encoding":{"text":{"field":"name"},"y":{"datum":0.827,"scale":{"domain":[0,1]},"axis":null}}}],"resolve":{"scale":{"y":"independent"}}},
{"data":{"values":[{"r":0.97,"p":"***"}]},"layer":[{"mark":"text","encoding":{"text":{"field":"r","format":".2f"},"size":{"field":"r","type":"quantitative","scale":{"domain":[-0.3,1],"range":[0,47]},"legend":null}}},{"mark":{"type":"text","color":"#DF536B","fontSize":48.8,"clip":true},"encoding":{"text":{"field":"p"},"x":{"datum":0.8,"scale":{"domain":[0,1]},"axis":null},"y":{"datum":0.705,"scale":{"domain":[0,1]},"axis":null}}}]},
{"data":{"values":[{"r":0.93,"p":"***"}]},"layer":[{"mark":"text","encoding":{"text":{"field":"r","format":".2f"},"size":{"field":"r","type":"quantitative","scale":{"domain":[-0.3,1],"range":[0,47]},"legend":null}}},{"mark":{"type":"text","color":"#DF536B","fontSize":48.8,"clip":true},"encoding":{"text":{"field":"p"},"x":{"datum":0.8,"scale":{"domain":[0,1]},"axis":null},"y":{"datum":0.705,"scale":{"domain":[0,1]},"axis":null}}}]},
{"data":{"values":[{"r":0.96,"p":"***"}]},"layer":[{"mark":"text","encoding":{"text":{"field":"r","format":".2f"},"size":{"field":"r","type":"quantitative","scale":{"domain":[-0.3,1],"range":[0,47]},"legend":null}}},{"mark":{"type":"text","color":"#DF536B","fontSize":48.8,"clip":true},"encoding":{"text":{"field":"p"},"x":{"datum":0.8,"scale":{"domain":[0,1]},"axis":null},"y":{"datum":0.705,"scale":{"domain":[0,1]},"axis":null}}}]},
{"data":{"values":[{"r":0.97,"p":"***"}]},"layer":[{"mark":"text","encoding":{"text":{"field":"r","format":".2f"},"size":{"field":"r","type":"quantitative","scale":{"domain":[-0.3,1],"range":[0,47]},"legend":null}}},{"mark":{"type":"text","color":"#DF536B","fontSize":48.8,"clip":true},"encoding":{"text":{"field":"p"},"x":{"datum":0.8,"scale":{"domain":[0,1]},"axis":null},"y":{"datum":0.705,"scale":{"domain":[0,1]},"axis":null}}}]},
{"data":{"values":[{"r":0.91,"p":"***"}]},"layer":[{"mark":"text","encoding":{"text":{"field":"r","format":".2f"},"size":{"field":"r","type":"quantitative","scale":{"domain":[-0.3,1],"range":[0,47]},"legend":null}}},{"mark":{"type":"text","color":"#DF536B","fontSize":48.8,"clip":true},"encoding":{"text":{"field":"p"},"x":{"datum":0.8,"scale":{"domain":[0,1]},"axis":null},"y":{"datum":301.43,"scale":{"domain":[286.2,307.8]},"axis":{"orient":"right","title":null,"format":"d","values":[290,295,300,305]}}}}]},

{"encoding":{"x":{"field":"Soldiers","type":"quantitative","scale":{"domain":[118344,184106]},"axis":null},"y":{"field":"Helicopters","type":"quantitative","scale":{"domain":[276.4,293.6]},"axis":{"orient":"left","title":null,"format":"d","values":[280,285,290]}}},"layer":[{"mark":"point"},{"transform":[{"loess":"Helicopters","on":"Soldiers","bandwidth":0.67}],"mark":{"type":"line","clip":true}}]},
{"encoding":{"x":{"field":"Tanks","type":"quantitative","scale":{"domain":[3126.8,3673.2]},"axis":null},"y":{"field":"Helicopters","type":"quantitative","scale":{"domain":[276.4,293.6]},"axis":null}},"layer":[{"mark":"point"},{"transform":[{"loess":"Helicopters","on":"Tanks","bandwidth":0.67}],"mark":{"type":"line","clip":true}}]},
{"encoding":{"x":{"field":"ArmoredCombatVehicles","type":"quantitative","scale":{"domain":[6232.5,7109.5]},"axis":null},"y":{"field":"Helicopters","type":"quantitative","scale":{"domain":[276.4,293.6]},"axis":null}},"layer":[{"mark":"point"},{"transform":[{"loess":"Helicopters","on":"ArmoredCombatVehicles","bandwidth":0.67}],"mark":{"type":"line","clip":true}}]},
{"encoding":{"x":{"field":"Artillery","type":"quantitative","scale":{"domain":[2122.3,2815.7]},"axis":null},"y":{"field":"Helicopters","type":"quantitative","scale":{"domain":[276.4,293.6]},"axis":null}},"layer":[{"mark":"point"},{"transform":[{"loess":"Helicopters","on":"Artillery","bandwidth":0.67}],"mark":{"type":"line","clip":true}}]},
{"encoding":{"x":{"field":"MultipleLaunchRocketSystems","type":"quantitative","scale":{"domain":[441.4,538.6]},"axis":null},"y":{"field":"Helicopters","type":"quantitative","scale":{"domain":[276.4,293.6]},"axis":null}},"layer":[{"mark":"point"},{"transform":[{"loess":"Helicopters","on":"MultipleLaunchRocketSystems","bandwidth":0.67}],"mark":{"type":"line","clip":true}}]},
{"encoding":{"x":{"field":"AirDefenceSystems","type":"quantitative","scale":{"domain":[217.5,285.5]},"axis":null},"y":{"field":"Helicopters","type":"quantitative","scale":{"domain":[276.4,293.6]},"axis":null}},"layer":[{"mark":"point"},{"transform":[{"loess":"Helicopters","on":"AirDefenceSystems","bandwidth":0.67}],"mark":{"type":"line","clip":true}}]},
{"encoding":{"x":{"field":"MilitaryJets","type":"quantitative","scale":{"domain":[286.2,307.8]},"axis":null},"y":{"field":"Helicopters","type":"quantitative","scale":{"domain":[276.4,293.6]},"axis":null}},"layer":[{"mark":"point"},{"transform":[{"loess":"Helicopters","on":"MilitaryJets","bandwidth":0.67}],"mark":{"type":"line","clip":true}}]},
{"layer":[{"mark":"bar","encoding":{"x":{"field":"Helicopters","bin":{"extent":[276.001,294.001],"step":2,"nice":false},"type":"quantitative","scale":{"domain":[275.28,294.72]},"axis":null},"y":{"aggregate":"count","type":"quantitative","scale":{"domain":[-0.88,22.88]},"axis":null}}},{"transform":[{"density":"Helicopters","bandwidth":1.29,"extent":[275.28,294.72]}],"mark":{"type":"line","clip":true},"encoding":{"x":{"field":"value","type":"quantitative","scale":{"domain":[275.28,294.72]},"axis":null},"y":{"field":"density","type":"quantitative","scale":{"domain":[-0.005238,0.13619]},"axis":null}}},{"mark":"rule","encoding":{"x":{"field":"Helicopters","type":"quantitative","scale":{"domain":[275.28,294.72]},"axis":null},"y":{"datum":0.004,"scale":{"domain":[0,1]},"axis":null},"y2":{"datum":0.034}}},{"data":{"values":[{"name":"Helicopters"}]},"mark":{"type":"text","fontSize":8,"color":"black"},"encoding":{"text":{"field":"name"},"y":{"datum":0.827,"scale":{"domain":[0,1]},"axis":null}}}],"resolve":{"scale":{"y":"independent"}}},
{"data":{"values":[{"r":0.93,"p":"***"}]},"layer":[{"mark":"text","encoding":{"text":{"field":"r","format":".2f"},"size":{"field":"r","type":"quantitative","scale":{"domain":[-0.3,1],"range":[0,47]},"legend":null}}},{"mark":{"type":"text","color":"#DF536B","fontSize":48.8,"clip":true},"encoding":{"text":{"field":"p"},"x":{"datum":0.8,"scale":{"domain":[0,1]},"axis":null},"y":{"datum":0.705,"scale":{"domain":[0,1]},"axis":null}}}]},
{"data":{"values":[{"r":0.94,"p":"***"}]},"layer":[{"mark":"text","encoding":{"text":{"field":"r","format":".2f"},"size":{"field":"r","type":"quantitative","scale":{"domain":[-0.3,1],"range":[0,47]},"legend":null}}},{"mark":{"type":"text","color":"#DF536B","fontSize":48.8,"clip":true},"encoding":{"text":{"field":"p"},"x":{"datum":0.8,"scale":{"domain":[0,1]},"axis":null},"y":{"datum":0.705,"scale":{"domain":[0,1]},"axis":null}}}]},
{"data":{"values":[{"r":0.96,"p":"***"}]},"layer":[{"mark":"text","encoding":{"text":{"field":"r","format":".2f"},"size":{"field":"r","type":"quantitative","scale":{"domain":[-0.3,1],"range":[0,47]},"legend":null}}},{"mark":{"type":"text","color":"#DF536B","fontSize":48.8,"clip":true},"encoding":{"text":{"field":"p"},"x":{"datum":0.8,"scale":{"domain":[0,1]},"axis":null},"y":{"datum":0.705,"scale":{"domain":[0,1]},"axis":null}}}]},
{"data":{"values":[{"r":0.90,"p":"***"}]},"layer":[{"mark":"text","encoding":{"text":{"field":"r","format":".2f"},"size":{"field":"r","type":"quantitative","scale":{"domain":[-0.3,1],"range":[0,47]},"legend":null}}},{"mark":{"type":"text","color":"#DF536B","fontSize":48.8,"clip":true},"encoding":{"text":{"field":"p"},"x":{"datum":0.8,"scale":{"domain":[0,1]},"axis":null},"y":{"datum":0.705,"scale":{"domain":[0,1]},"axis":null}}}]},

{"encoding":{"x":{"field":"Soldiers","type":"quantitative","scale":{"domain":[118344,184106]},"axis":null},"y":{"field":"Drones","type":"quantitative","scale":{"domain":[1869,2410]},"axis":null}},"layer":[{"mark":"point"},{"transform":[{"loess":"Drones","on":"Soldiers","bandwidth":0.67}],"mark":{"type":"line","clip":true}}]},
{"encoding":{"x":{"field":"Tanks","type":"quantitative","scale":{"domain":[3126.8,3673.2]},"axis":null},"y":{"field":"Drones","type":"quantitative","scale":{"domain":[1869,2410]},"axis":null}},"layer":[{"mark":"point"},{"transform":[{"loess":"Drones","on":"Tanks","bandwidth":0.67}],"mark":{"type":"line","clip":true}}]},
{"encoding":{"x":{"field":"ArmoredCombatVehicles","type":"quantitative","scale":{"domain":[6232.5,7109.5]},"axis":null},"y":{"field":"Drones","type":"quantitative","scale":{"domain":[1869,2410]},"axis":null}},"layer":[{"mark":"point"},{"transform":[{"loess":"Drones","on":"ArmoredCombatVehicles","bandwidth":0.67}],"mark":{"type":"line","clip":true}}]},
{"encoding":{"x":{"field":"Artillery","type":"quantitative","scale":{"domain":[2122.3,2815.7]},"axis":null},"y":{"field":"Drones","type":"quantitative","scale":{"domain":[1869,2410]},"axis":null}},"layer":[{"mark":"point"},{"transform":[{"loess":"Drones","on":"Artillery","bandwidth":0.67}],"mark":{"type":"line","clip":true}}]},
{"encoding":{"x":{"field":"MultipleLaunchRocketSystems","type":"quantitative","scale":{"domain":[441.4,538.6]},"axis":null},"y":{"field":"Drones","type":"quantitative","scale":{"domain":[1869,2410]},"axis":null}},"layer":[{"mark":"point"},{"transform":[{"loess":"Drones","on":"MultipleLaunchRocketSystems","bandwidth":0.67}],"mark":{"type":"line","clip":true}}]},
{"encoding":{"x":{"field":"AirDefenceSystems","type":"quantitative","scale":{"domain":[217.5,285.5]},"axis":null},"y":{"field":"Drones","type":"quantitative","scale":{"domain":[1869,2410]},"axis":null}},"layer":[{"mark":"point"},{"transform":[{"loess":"Drones","on":"AirDefenceSystems","bandwidth":0.67}],"mark":{"type":"line","clip":true}}]},
{"encoding":{"x":{"field":"MilitaryJets","type":"quantitative","scale":{"domain":[286.2,307.8]},"axis":null},"y":{"field":"Drones","type":"quantitative","scale":{"domain":[1869,2410]},"axis":null}},"layer":[{"mark":"point"},{"transform":[{"loess":"Drones","on":"MilitaryJets","bandwidth":0.67}],"mark":{"type":"line","clip":true}}]},
{"encoding":{"x":{"field":"Helicopters","type":"quantitative","scale":{"domain":[276.4,293.6]},"axis":null},"y":{"field":"Drones","type":"quantitative","scale":{"domain":[1869,2410]},"axis":null}},"layer":[{"mark":"point"},{"transform":[{"loess":"Drones","on":"Helicopters","bandwidth":0.67}],"mark":{"type":"line","clip":true}}]},
{"layer":[{"mark":"bar","encoding":{"x":{"field":"Drones","bin":{"extent":[1800.001,2400.001],"step":100,"nice":false},"type":"quantitative","scale":{"domain":[1776,2424]},"axis":null},"y":{"aggregate":"count","type":"quantitative","scale":{"domain":[-1.04,27.04]},"axis":null}}},{"transform":[{"density":"Drones","bandwidth":49.9,"extent":[1776,2424]}],"mark":{"type":"line","clip":true},"encoding":{"x":{"field":"value","type":"quantitative","scale":{"domain":[1776,2424]},"axis":null},"y":{"field":"density","type":"quantitative","scale":{"domain":[-0.0001238,0.003219]},"axis":null}}},{"mark":"rule","encoding":{"x":{"field":"Drones","type":"quantitative","scale":{"domain":[1776,2424]},"axis":null},"y":{"datum":0.004,"scale":{"domain":[0,1]},"axis":null},"y2":{"datum":0.034}}},{"data":{"values":[{"name":"Drones"}]},"mark":{"type":"text","fontSize":8,"color":"black"},"encoding":{"text":{"field":"name"},"y":{"datum":0.827,"scale":{"domain":[0,1]},"axis":null}}}],"resolve":{"scale":{"y":"independent"}}},
{"data":{"values":[{"r":0.86,"p":"***"}]},"layer":[{"mark":"text","encoding":{"text":{"field":"r","format":".2f"},"size":{"field":"r","type":"quantitative","scale":{"domain":[-0.3,1],"range":[0,47]},"legend":null}}},{"mark":{"type":"text","color":"#DF536B","fontSize":48.8,"clip":true},"encoding":{"text":{"field":"p"},"x":{"datum":0.8,"scale":{"domain":[0,1]},"axis":null},"y":{"datum":0.705,"scale":{"domain":[0,1]},"axis":null}}}]},
{"data":{"values":[{"r":0.99,"p":"***"}]},"layer":[{"mark":"text","encoding":{"text":{"field":"r","format":".2f"},"size":{"field":"r","type":"quantitative","scale":{"domain":[-0.3,1],"range":[0,47]},"legend":null}}},{"mark":{"type":"text","color":"#DF536B","fontSize":48.8,"clip":true},"encoding":{"text":{"field":"p"},"x":{"datum":0.8,"scale":{"domain":[0,1]},"axis":null},"y":{"datum":0.705,"scale":{"domain":[0,1]},"axis":null}}}]},
{"data":{"values":[{"r":0.99,"p":"***"}]},"layer":[{"mark":"text","encoding":{"text":{"field":"r","format":".2f"},"size":{"field":"r","type":"quantitative","scale":{"domain":[-0.3,1],"range":[0,47]},"legend":null}}},{"mark":{"type":"text","color":"#DF536B","fontSize":48.8,"clip":true},"encoding":{"text":{"field":"p"},"x":{"datum":0.8,"scale":{"domain":[0,1]},"axis":null},"y":{"datum":2250.4,"scale":{"domain":[1869,2410]},"axis":{"orient":"right","title":null,"format":"d","values":[1900,2000,2100,2200,2300,2400],"labelExpr":"(datum.value-1900)%200==0?datum.label:''"}}}}]},

{"encoding":{"x":{"field":"Soldiers","type":"quantitative","scale":{"domain":[118344,184106]},"axis":null},"y":{"field":"CruiseMissiles","type":"quantitative","scale":{"domain":[742.5,917.5]},"axis":{"orient":"left","title":null,"format":"d","values":[750,800,850,900]}}},"layer":[{"mark":"point"},{"transform":[{"loess":"CruiseMissiles","on":"Soldiers","bandwidth":0.67}],"mark":{"type":"line","clip":true}}]},
{"encoding":{"x":{"field":"Tanks","type":"quantitative","scale":{"domain":[3126.8,3673.2]},"axis":null},"y":{"field":"CruiseMissiles","type":"quantitative","scale":{"domain":[742.5,917.5]},"axis":null}},"layer":[{"mark":"point"},{"transform":[{"loess":"CruiseMissiles","on":"Tanks","bandwidth":0.67}],"mark":{"type":"line","clip":true}}]},
{"encoding":{"x":{"field":"ArmoredCombatVehicles","type":"quantitative","scale":{"domain":[6232.5,7109.5]},"axis":null},"y":{"field":"CruiseMissiles","type":"quantitative","scale":{"domain":[742.5,917.5]},"axis":null}},"layer":[{"mark":"point"},{"transform":[{"loess":"CruiseMissiles","on":"ArmoredCombatVehicles","bandwidth":0.67}],"mark":{"type":"line","clip":true}}]},
{"encoding":{"x":{"field":"Artillery","type":"quantitative","scale":{"domain":[2122.3,2815.7]},"axis":null},"y":{"field":"CruiseMissiles","type":"quantitative","scale":{"domain":[742.5,917.5]},"axis":null}},"layer":[{"mark":"point"},{"transform":[{"loess":"CruiseMissiles","on":"Artillery","bandwidth":0.67}],"mark":{"type":"line","clip":true}}]},
{"encoding":{"x":{"field":"MultipleLaunchRocketSystems","type":"quantitative","scale":{"domain":[441.4,538.6]},"axis":null},"y":{"field":"CruiseMissiles","type":"quantitative","scale":{"domain":[742.5,917.5]},"axis":null}},"layer":[{"mark":"point"},{"transform":[{"loess":"CruiseMissiles","on":"MultipleLaunchRocketSystems","bandwidth":0.67}],"mark":{"type":"line","clip":true}}]},
{"encoding":{"x":{"field":"AirDefenceSystems","type":"quantitative","scale":{"domain":[217.5,285.5]},"axis":null},"y":{"field":"CruiseMissiles","type":"quantitative","scale":{"domain":[742.5,917.5]},"axis":null}},"layer":[{"mark":"point"},{"transform":[{"loess":"CruiseMissiles","on":"AirDefenceSystems","bandwidth":0.67}],"mark":{"type":"line","clip":true}}]},
{"encoding":{"x":{"field":"MilitaryJets","type":"quantitative","scale":{"domain":[286.2,307.8]},"axis":null},"y":{"field":"CruiseMissiles","type":"quantitative","scale":{"domain":[742.5,917.5]},"axis":null}},"layer":[{"mark":"point"},{"transform":[{"loess":"CruiseMissiles","on":"MilitaryJets","bandwidth":0.67}],"mark":{"type":"line","clip":true}}]},
{"encoding":{"x":{"field":"Helicopters","type":"quantitative","scale":{"domain":[276.4,293.6]},"axis":null},"y":{"field":"CruiseMissiles","type":"quantitative","scale":{"domain":[742.5,917.5]},"axis":null}},"layer":[{"mark":"point"},{"transform":[{"loess":"CruiseMissiles","on":"Helicopters","bandwidth":0.67}],"mark":{"type":"line","clip":true}}]},
{"encoding":{"x":{"field":"Drones","type":"quantitative","scale":{"domain":[1869,2410]},"axis":null},"y":{"field":"CruiseMissiles","type":"quantitative","scale":{"domain":[742.5,917.5]},"axis":null}},"layer":[{"mark":"point"},{"transform":[{"loess":"CruiseMissiles","on":"Drones","bandwidth":0.67}],"mark":{"type":"line","clip":true}}]},
{"layer":[{"mark":"bar","encoding":{"x":{"field":"CruiseMissiles","bin":{"extent":[740.001,920.001],"step":20,"nice":false},"type":"quantitative","scale":{"domain":[732.8,927.2]},"axis":null},"y":{"aggregate":"count","type":"quantitative","scale":{"domain":[-1.48,38.48]},"axis":null}}},{"transform":[{"density":"CruiseMissiles","bandwidth":14.4,"extent":[732.8,927.2]}],"mark":{"type":"line","clip":true},"encoding":{"x":{"field":"value","type":"quantitative","scale":{"domain":[732.8,927.2]},"axis":null},"y":{"field":"density","type":"quantitative","scale":{"domain":[-0.000881,0.022905]},"axis":null}}},{"mark":"rule","encoding":{"x":{"field":"CruiseMissiles","type":"quantitative","scale":{"domain":[732.8,927.2]},"axis":null},"y":{"datum":0.004,"scale":{"domain":[0,1]},"axis":null},"y2":{"datum":0.034}}},{"data":{"values":[{"name":"CruiseMissiles"}]},"mark":{"type":"text","fontSize":8,"color":"black"},"encoding":{"text":{"field":"name"},"y":{"datum":0.827,"scale":{"domain":[0,1]},"axis":null}}}],"resolve":{"scale":{"y":"independent"}}},
{"data":{"values":[{"r":0.90,"p":"***"}]},"layer":[{"mark":"text","encoding":{"text":{"field":"r","format":".2f"},"size":{"field":"r","type":"quantitative","scale":{"domain":[-0.3,1],"range":[0,47]},"legend":null}}},{"mark":{"type":"text","color":"#DF536B","fontSize":48.8,"clip":true},"encoding":{"text":{"field":"p"},"x":{"datum":0.8,"scale":{"domain":[0,1]},"axis":null},"y":{"datum":0.705,"scale":{"domain":[0,1]},"axis":null}}}]},
{"data":{"values":[{"r":0.83,"p":"***"}]},"layer":[{"mark":"text","encoding":{"text":{"field":"r","format":".2f"},"size":{"field":"r","type":"quantitative","scale":{"domain":[-0.3,1],"range":[0,47]},"legend":null}}},{"mark":{"type":"text","color":"#DF536B","fontSize":48.8,"clip":true},"encoding":{"text":{"field":"p"},"x":{"datum":0.8,"scale":{"domain":[0,1]},"axis":null},"y":{"datum":0.705,"scale":{"domain":[0,1]},"axis":null}}}]},

{"encoding":{"x":{"field":"Soldiers","type":"quantitative","scale":{"domain":[118344,184106]},"axis":null},"y":{"field":"VehiclesAndFuelTanks","type":"quantitative","scale":{"domain":[4904.5,5674.5]},"axis":null}},"layer":[{"mark":"point"},{"transform":[{"loess":"VehiclesAndFuelTanks","on":"Soldiers","bandwidth":0.67}],"mark":{"type":"line","clip":true}}]},
{"encoding":{"x":{"field":"Tanks","type":"quantitative","scale":{"domain":[3126.8,3673.2]},"axis":null},"y":{"field":"VehiclesAndFuelTanks","type":"quantitative","scale":{"domain":[4904.5,5674.5]},"axis":null}},"layer":[{"mark":"point"},{"transform":[{"loess":"VehiclesAndFuelTanks","on":"Tanks","bandwidth":0.67}],"mark":{"type":"line","clip":true}}]},
{"encoding":{"x":{"field":"ArmoredCombatVehicles","type":"quantitative","scale":{"domain":[6232.5,7109.5]},"axis":null},"y":{"field":"VehiclesAndFuelTanks","type":"quantitative","scale":{"domain":[4904.5,5674.5]},"axis":null}},"layer":[{"mark":"point"},{"transform":[{"loess":"VehiclesAndFuelTanks","on":"ArmoredCombatVehicles","bandwidth":0.67}],"mark":{"type":"line","clip":true}}]},
{"encoding":{"x":{"field":"Artillery","type":"quantitative","scale":{"domain":[2122.3,2815.7]},"axis":null},"y":{"field":"VehiclesAndFuelTanks","type":"quantitative","scale":{"domain":[4904.5,5674.5]},"axis":null}},"layer":[{"mark":"point"},{"transform":[{"loess":"VehiclesAndFuelTanks","on":"Artillery","bandwidth":0.67}],"mark":{"type":"line","clip":true}}]},
{"encoding":{"x":{"field":"MultipleLaunchRocketSystems","type":"quantitative","scale":{"domain":[441.4,538.6]},"axis":null},"y":{"field":"VehiclesAndFuelTanks","type":"quantitative","scale":{"domain":[4904.5,5674.5]},"axis":null}},"layer":[{"mark":"point"},{"transform":[{"loess":"VehiclesAndFuelTanks","on":"MultipleLaunchRocketSystems","bandwidth":0.67}],"mark":{"type":"line","clip":true}}]},
{"encoding":{"x":{"field":"AirDefenceSystems","type":"quantitative","scale":{"domain":[217.5,285.5]},"axis":null},"y":{"field":"VehiclesAndFuelTanks","type":"quantitative","scale":{"domain":[4904.5,5674.5]},"axis":null}},"layer":[{"mark":"point"},{"transform":[{"loess":"VehiclesAndFuelTanks","on":"AirDefenceSystems","bandwidth":0.67}],"mark":{"type":"line","clip":true}}]},
{"encoding":{"x":{"field":"MilitaryJets","type":"quantitative","scale":{"domain":[286.2,307.8]},"axis":null},"y":{"field":"VehiclesAndFuelTanks","type":"quantitative","scale":{"domain":[4904.5,5674.5]},"axis":null}},"layer":[{"mark":"point"},{"transform":[{"loess":"VehiclesAndFuelTanks","on":"MilitaryJets","bandwidth":0.67}],"mark":{"type":"line","clip":true}}]},
{"encoding":{"x":{"field":"Helicopters","type":"quantitative","scale":{"domain":[276.4,293.6]},"axis":null},"y":{"field":"VehiclesAndFuelTanks","type":"quantitative","scale":{"domain":[4904.5,5674.5]},"axis":null}},"layer":[{"mark":"point"},{"transform":[{"loess":"VehiclesAndFuelTanks","on":"Helicopters","bandwidth":0.67}],"mark":{"type":"line","clip":true}}]},
{"encoding":{"x":{"field":"Drones","type":"quantitative","scale":{"domain":[1869,2410]},"axis":null},"y":{"field":"VehiclesAndFuelTanks","type":"quantitative","scale":{"domain":[4904.5,5674.5]},"axis":null}},"layer":[{"mark":"point"},{"transform":[{"loess":"VehiclesAndFuelTanks","on":"Drones","bandwidth":0.67}],"mark":{"type":"line","clip":true}}]},
{"encoding":{"x":{"field":"CruiseMissiles","type":"quantitative","scale":{"domain":[742.5,917.5]},"axis":null},"y":{"field":"VehiclesAndFuelTanks","type":"quantitative","scale":{"domain":[4904.5,5674.5]},"axis":null}},"layer":[{"mark":"point"},{"transform":[{"loess":"VehiclesAndFuelTanks","on":"CruiseMissiles","bandwidth":0.67}],"mark":{"type":"line","clip":true}}]},
{"layer":[{"mark":"bar","encoding":{"x":{"field":"VehiclesAndFuelTanks","bin":{"extent":[4800.001,5800.001],"step":200,"nice":false},"type":"quantitative","scale":{"domain":[4760,5840]},"axis":null},"y":{"aggregate":"count","type":"quantitative","scale":{"domain":[-1,26]},"axis":null}}},{"transform":[{"density":"VehiclesAndFuelTanks","bandwidth":76,"extent":[4760,5840]}],"mark":{"type":"line","clip":true},"encoding":{"x":{"field":"value","type":"quantitative","scale":{"domain":[4760,5840]},"axis":null},"y":{"field":"density","type":"quantitative","scale":{"domain":[-5.95e-5,0.0015476]},"axis":null}}},{"mark":"rule","encoding":{"x":{"field":"VehiclesAndFuelTanks","type":"quantitative","scale":{"domain":[4760,5840]},"axis":null},"y":{"datum":0.004,"scale":{"domain":[0,1]},"axis":null},"y2":{"datum":0.034}}},{"data":{"values":[{"name":"VehiclesAndFuelTanks"}]},"mark":{"type":"text","fontSize":8,"color":"black"},"encoding":{"text":{"field":"name"},"y":{"datum":0.827,"scale":{"domain":[0,1]},"axis":null}}}],"resolve":{"scale":{"y":"independent"}}},
{"data":{"values":[{"r":0.98,"p":"***"}]},"layer":[{"mark":"text","encoding":{"text":{"field":"r","format":".2f"},"size":{"field":"r","type":"quantitative","scale":{"domain":[-0.3,1],"range":[0,47]},"legend":null}}},{"mark":{"type":"text","color":"#DF536B","fontSize":48.8,"clip":true},"encoding":{"text":{"field":"p"},"x":{"datum":0.8,"scale":{"domain":[0,1]},"axis":null},"y":{"datum":5447.4,"scale":{"domain":[4904.5,5674.5]},"axis":{"orient":"right","title":null,"format":"d","values":[5000,5100,5200,5300,5400,5500,5600],"labelExpr":"(datum.value-5000)%300==0?datum.label:''"}}}}]},

{"encoding":{"x":{"field":"Soldiers","type":"quantitative","scale":{"domain":[118344,184106]},"axis":{"orient":"bottom","title":null,"format":"d","values":[120000,130000,140000,150000,160000,170000,180000],"labelExpr":"datum.value%30000==0?datum.label:''"}},"y":{"field":"SpecialEquipment","type":"quantitative","scale":{"domain":[189.8,330.2]},"axis":{"orient":"left","title":null,"format":"d","values":[200,220,240,260,280,300,320],"labelExpr":"(datum.value-200)%40==0?datum.label:''"}}},"layer":[{"mark":"point"},{"transform":[{"loess":"SpecialEquipment","on":"Soldiers","bandwidth":0.67}],"mark":{"type":"line","clip":true}}]},
{"encoding":{"x":{"field":"Tanks","type":"quantitative","scale":{"domain":[3126.8,3673.2]},"axis":null},"y":{"field":"SpecialEquipment","type":"quantitative","scale":{"domain":[189.8,330.2]},"axis":null}},"layer":[{"mark":"point"},{"transform":[{"loess":"SpecialEquipment","on":"Tanks","bandwidth":0.67}],"mark":{"type":"line","clip":true}}]},
{"encoding":{"x":{"field":"ArmoredCombatVehicles","type":"quantitative","scale":{"domain":[6232.5,7109.5]},"axis":{"orient":"bottom","title":null,"format":"d","values":[6400,6600,6800,7000],"labelExpr":"datum.value%400==0?datum.label:''"}},"y":{"field":"SpecialEquipment","type":"quantitative","scale":{"domain":[189.8,330.2]},"axis":null}},"layer":[{"mark":"point"},{"transform":[{"loess":"SpecialEquipment","on":"ArmoredCombatVehicles","bandwidth":0.67}],"mark":{"type":"line","clip":true}}]},
{"encoding":{"x":{"field":"Artillery","type":"quantitative","scale":{"domain":[2122.3,2815.7]},"axis":null},"y":{"field":"SpecialEquipment","type":"quantitative","scale":{"domain":[189.8,330.2]},"axis":null}},"layer":[{"mark":"point"},{"transform":[{"loess":"SpecialEquipment","on":"Artillery","bandwidth":0.67}],"mark":{"type":"line","clip":true}}]},
{"encoding":{"x":{"field":"MultipleLaunchRocketSystems","type":"quantitative","scale":{"domain":[441.4,538.6]},"axis":{"orient":"bottom","title":null,"format":"d","values":[460,480,500,520],"labelExpr":"(datum.value-460)%40==0?datum.label:''"}},"y":{"field":"SpecialEquipment","type":"quantitative","scale":{"domain":[189.8,330.2]},"axis":null}},"layer":[{"mark":"point"},{"transform":[{"loess":"SpecialEquipment","on":"MultipleLaunchRocketSystems","bandwidth":0.67}],"mark":{"type":"line","clip":true}}]},
{"encoding":{"x":{"field":"AirDefenceSystems","type":"quantitative","scale":{"domain":[217.5,285.5]},"axis":null},"y":{"field":"SpecialEquipment","type":"quantitative","scale":{"domain":[189.8,330.2]},"axis":null}},"layer":[{"mark":"point"},{"transform":[{"loess":"SpecialEquipment","on":"AirDefenceSystems","bandwidth":0.67}],"mark":{"type":"line","clip":true}}]},
{"encoding":{"x":{"field":"MilitaryJets","type":"quantitative","scale":{"domain":[286.2,307.8]},"axis":{"orient":"bottom","title":null,"format":"d","values":[290,295,300,305]}},"y":{"field":"SpecialEquipment","type":"quantitative","scale":{"domain":[189.8,330.2]},"axis":null}},"layer":[{"mark":"point"},{"transform":[{"loess":"SpecialEquipment","on":"MilitaryJets","bandwidth":0.67}],"mark":{"type":"line","clip":true}}]},
{"encoding":{"x":{"field":"Helicopters","type":"quantitative","scale":{"domain":[276.4,293.6]},"axis":null},"y":{"field":"SpecialEquipment","type":"quantitative","scale":{"domain":[189.8,330.2]},"axis":null}},"layer":[{"mark":"point"},{"transform":[{"loess":"SpecialEquipment","on":"Helicopters","bandwidth":0.67}],"mark":{"type":"line","clip":true}}]},
{"encoding":{"x":{"field":"Drones","type":"quantitative","scale":{"domain":[1869,2410]},"axis":{"orient":"bottom","title":null,"format":"d","values":[1900,2000,2100,2200,2300,2400],"labelExpr":"(datum.value-1900)%200==0?datum.label:''"}},"y":{"field":"SpecialEquipment","type":"quantitative","scale":{"domain":[189.8,330.2]},"axis":null}},"layer":[{"mark":"point"},{"transform":[{"loess":"SpecialEquipment","on":"Drones","bandwidth":0.67}],"mark":{"type":"line","clip":true}}]},
{"encoding":{"x":{"field":"CruiseMissiles","type":"quantitative","scale":{"domain":[742.5,917.5]},"axis":null},"y":{"field":"SpecialEquipment","type":"quantitative","scale":{"domain":[189.8,330.2]},"axis":null}},"layer":[{"mark":"point"},{"transform":[{"loess":"SpecialEquipment","on":"CruiseMissiles","bandwidth":0.67}],"mark":{"type":"line","clip":true}}]},
{"encoding":{"x":{"field":"VehiclesAndFuelTanks","type":"quantitative","scale":{"domain":[4904.5,5674.5]},"axis":{"orient":"bottom","title":null,"format":"d","values":[5000,5100,5200,5300,5400,5500,5600],"labelExpr":"(datum.value-5000)%300==0?datum.label:''"}},"y":{"field":"SpecialEquipment","type":"quantitative","scale":{"domain":[189.8,330.2]},"axis":null}},"layer":[{"mark":"point"},{"transform":[{"loess":"SpecialEquipment","on":"VehiclesAndFuelTanks","bandwidth":0.67}],"mark":{"type":"line","clip":true}}]},
{"layer":[{"mark":"bar","encoding":{"x":{"field":"SpecialEquipment","bin":{"extent":[180.001,340.001],"step":20,"nice":false},"type":"quantitative","scale":{"domain":[173.6,346.4]},"axis":null},"y":{"aggregate":"count","type":"quantitative","scale":{"domain":[-0.88,22.88]},"axis":null}}},{"transform":[{"density":"SpecialEquipment","bandwidth":14.5,"extent":[173.6,346.4]}],"mark":{"type":"line","clip":true},"encoding":{"x":{"field":"value","type":"quantitative","scale":{"domain":[173.6,346.4]},"axis":null},"y":{"field":"density","type":"quantitative","scale":{"domain":[-0.000524,0.013619]},"axis":null}}},{"mark":"rule","encoding":{"x":{"field":"SpecialEquipment","type":"quantitative","scale":{"domain":[173.6,346.4]},"axis":null},"y":{"datum":0.004,"scale":{"domain":[0,1]},"axis":null},"y2":{"datum":0.034}}},{"data":{"values":[{"name":"SpecialEquipment"}]},"mark":{"type":"text","fontSize":8,"color":"black"},"encoding":{"text":{"field":"name"},"y":{"datum":0.827,"scale":{"domain":[0,1]},"axis":null}}}],"resolve":{"scale":{"y":"independent"}}}
]
}
